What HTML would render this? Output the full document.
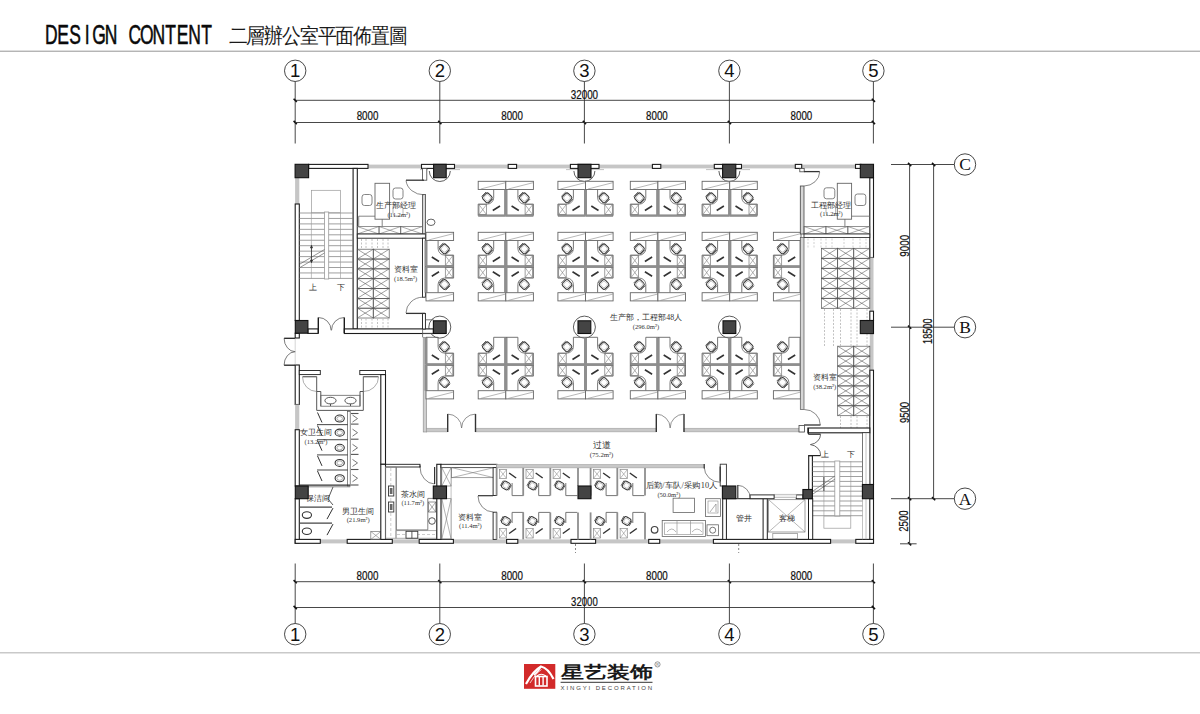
<!DOCTYPE html>
<html><head><meta charset="utf-8"><style>html,body{margin:0;padding:0;background:#fff;width:1200px;height:714px;overflow:hidden}svg{display:block}</style></head><body>
<svg width="1200" height="714" viewBox="0 0 1200 714" shape-rendering="geometricPrecision">
<rect x="0" y="50.6" width="1200" height="1.3" fill="#adadad" stroke="none" stroke-width="1" />
<rect x="0" y="652" width="1200" height="1.5" fill="#c9c9c9" stroke="none" stroke-width="1" />
<text transform="translate(0 44.0) scale(0.62 1)" x="82.69 101.95 121.21 140.47 159.73 178.98 198.24 217.50 236.76 256.02 275.27 294.53 313.79 333.05" y="0" font-family="Liberation Sans" font-size="28.2" text-anchor="middle" fill="#0a0a0a" stroke="#0a0a0a" stroke-width="0.55">DESIGN CONTENT</text>
<text transform="translate(0 42.6) scale(0.9 1)" x="264.54 284.30 304.06 323.81 343.57 363.32 383.08 402.83 422.59 442.34" y="0" font-family="Liberation Serif" font-size="21.3" text-anchor="middle" fill="#1a1a1a">二層辦公室平面佈置圖</text>
<circle cx="295.2" cy="70.8" r="10.7" fill="none" stroke="#333" stroke-width="0.9"/>
<text x="295.2" y="77.4" font-family="Liberation Sans" font-size="18.5" text-anchor="middle" fill="#111" >1</text>
<line x1="295.2" y1="81.5" x2="295.2" y2="143.5" stroke="#333" stroke-width="0.9" />
<line x1="293.6" y1="120.9" x2="296.8" y2="124.1" stroke="#111" stroke-width="1.6" />
<circle cx="439.8" cy="70.8" r="10.7" fill="none" stroke="#333" stroke-width="0.9"/>
<text x="439.8" y="77.4" font-family="Liberation Sans" font-size="18.5" text-anchor="middle" fill="#111" >2</text>
<line x1="439.8" y1="81.5" x2="439.8" y2="143.5" stroke="#333" stroke-width="0.9" />
<line x1="438.2" y1="120.9" x2="441.4" y2="124.1" stroke="#111" stroke-width="1.6" />
<circle cx="584.4" cy="70.8" r="10.7" fill="none" stroke="#333" stroke-width="0.9"/>
<text x="584.4" y="77.4" font-family="Liberation Sans" font-size="18.5" text-anchor="middle" fill="#111" >3</text>
<line x1="584.4" y1="81.5" x2="584.4" y2="143.5" stroke="#333" stroke-width="0.9" />
<line x1="582.8" y1="120.9" x2="586" y2="124.1" stroke="#111" stroke-width="1.6" />
<circle cx="729.4" cy="70.8" r="10.7" fill="none" stroke="#333" stroke-width="0.9"/>
<text x="729.4" y="77.4" font-family="Liberation Sans" font-size="18.5" text-anchor="middle" fill="#111" >4</text>
<line x1="729.4" y1="81.5" x2="729.4" y2="143.5" stroke="#333" stroke-width="0.9" />
<line x1="727.8" y1="120.9" x2="731" y2="124.1" stroke="#111" stroke-width="1.6" />
<circle cx="873.4" cy="70.8" r="10.7" fill="none" stroke="#333" stroke-width="0.9"/>
<text x="873.4" y="77.4" font-family="Liberation Sans" font-size="18.5" text-anchor="middle" fill="#111" >5</text>
<line x1="873.4" y1="81.5" x2="873.4" y2="143.5" stroke="#333" stroke-width="0.9" />
<line x1="871.8" y1="120.9" x2="875" y2="124.1" stroke="#111" stroke-width="1.6" />
<line x1="295.2" y1="100.3" x2="873.4" y2="100.3" stroke="#333" stroke-width="0.9" />
<line x1="295.2" y1="122.5" x2="873.4" y2="122.5" stroke="#333" stroke-width="0.9" />
<line x1="293.6" y1="98.7" x2="296.8" y2="101.9" stroke="#111" stroke-width="1.6" />
<line x1="871.8" y1="98.7" x2="875" y2="101.9" stroke="#111" stroke-width="1.6" />
<text x="584.4" y="98.7" font-family="Liberation Sans" font-size="12.7" text-anchor="middle" fill="#111" textLength="27.4" lengthAdjust="spacingAndGlyphs" stroke="#111" stroke-width="0.22">32000</text>
<text x="367.5" y="120.3" font-family="Liberation Sans" font-size="12.3" text-anchor="middle" fill="#111" textLength="21.7" lengthAdjust="spacingAndGlyphs" stroke="#111" stroke-width="0.22">8000</text>
<text x="512.1" y="120.3" font-family="Liberation Sans" font-size="12.3" text-anchor="middle" fill="#111" textLength="21.7" lengthAdjust="spacingAndGlyphs" stroke="#111" stroke-width="0.22">8000</text>
<text x="656.9" y="120.3" font-family="Liberation Sans" font-size="12.3" text-anchor="middle" fill="#111" textLength="21.7" lengthAdjust="spacingAndGlyphs" stroke="#111" stroke-width="0.22">8000</text>
<text x="801.4" y="120.3" font-family="Liberation Sans" font-size="12.3" text-anchor="middle" fill="#111" textLength="21.7" lengthAdjust="spacingAndGlyphs" stroke="#111" stroke-width="0.22">8000</text>
<circle cx="295.2" cy="634.2" r="10.7" fill="none" stroke="#333" stroke-width="0.9"/>
<text x="295.2" y="640.8" font-family="Liberation Sans" font-size="18.5" text-anchor="middle" fill="#111" >1</text>
<line x1="295.2" y1="563.5" x2="295.2" y2="623.5" stroke="#333" stroke-width="0.9" />
<line x1="293.6" y1="580.1" x2="296.8" y2="583.3" stroke="#111" stroke-width="1.6" />
<circle cx="439.8" cy="634.2" r="10.7" fill="none" stroke="#333" stroke-width="0.9"/>
<text x="439.8" y="640.8" font-family="Liberation Sans" font-size="18.5" text-anchor="middle" fill="#111" >2</text>
<line x1="439.8" y1="563.5" x2="439.8" y2="623.5" stroke="#333" stroke-width="0.9" />
<line x1="438.2" y1="580.1" x2="441.4" y2="583.3" stroke="#111" stroke-width="1.6" />
<circle cx="584.4" cy="634.2" r="10.7" fill="none" stroke="#333" stroke-width="0.9"/>
<text x="584.4" y="640.8" font-family="Liberation Sans" font-size="18.5" text-anchor="middle" fill="#111" >3</text>
<line x1="584.4" y1="563.5" x2="584.4" y2="623.5" stroke="#333" stroke-width="0.9" />
<line x1="582.8" y1="580.1" x2="586" y2="583.3" stroke="#111" stroke-width="1.6" />
<circle cx="729.4" cy="634.2" r="10.7" fill="none" stroke="#333" stroke-width="0.9"/>
<text x="729.4" y="640.8" font-family="Liberation Sans" font-size="18.5" text-anchor="middle" fill="#111" >4</text>
<line x1="729.4" y1="563.5" x2="729.4" y2="623.5" stroke="#333" stroke-width="0.9" />
<line x1="727.8" y1="580.1" x2="731" y2="583.3" stroke="#111" stroke-width="1.6" />
<circle cx="873.4" cy="634.2" r="10.7" fill="none" stroke="#333" stroke-width="0.9"/>
<text x="873.4" y="640.8" font-family="Liberation Sans" font-size="18.5" text-anchor="middle" fill="#111" >5</text>
<line x1="873.4" y1="563.5" x2="873.4" y2="623.5" stroke="#333" stroke-width="0.9" />
<line x1="871.8" y1="580.1" x2="875" y2="583.3" stroke="#111" stroke-width="1.6" />
<line x1="295.2" y1="581.7" x2="873.4" y2="581.7" stroke="#333" stroke-width="0.9" />
<line x1="295.2" y1="607.5" x2="873.4" y2="607.5" stroke="#333" stroke-width="0.9" />
<line x1="293.6" y1="605.9" x2="296.8" y2="609.1" stroke="#111" stroke-width="1.6" />
<line x1="871.8" y1="605.9" x2="875" y2="609.1" stroke="#111" stroke-width="1.6" />
<text x="584.4" y="605.5" font-family="Liberation Sans" font-size="12.7" text-anchor="middle" fill="#111" textLength="26.6" lengthAdjust="spacingAndGlyphs" stroke="#111" stroke-width="0.22">32000</text>
<text x="367.5" y="579.8" font-family="Liberation Sans" font-size="12.3" text-anchor="middle" fill="#111" textLength="21.8" lengthAdjust="spacingAndGlyphs" stroke="#111" stroke-width="0.22">8000</text>
<text x="512.1" y="579.8" font-family="Liberation Sans" font-size="12.3" text-anchor="middle" fill="#111" textLength="21.8" lengthAdjust="spacingAndGlyphs" stroke="#111" stroke-width="0.22">8000</text>
<text x="656.9" y="579.8" font-family="Liberation Sans" font-size="12.3" text-anchor="middle" fill="#111" textLength="21.8" lengthAdjust="spacingAndGlyphs" stroke="#111" stroke-width="0.22">8000</text>
<text x="801.4" y="579.8" font-family="Liberation Sans" font-size="12.3" text-anchor="middle" fill="#111" textLength="21.8" lengthAdjust="spacingAndGlyphs" stroke="#111" stroke-width="0.22">8000</text>
<line x1="891" y1="164.5" x2="954.3" y2="164.5" stroke="#333" stroke-width="0.9" />
<circle cx="965" cy="164.5" r="10.7" fill="none" stroke="#333" stroke-width="0.9"/>
<text x="965" y="170.4" font-family="Liberation Serif" font-size="17.5" text-anchor="middle" fill="#111" >C</text>
<line x1="908" y1="162.9" x2="911.2" y2="166.1" stroke="#111" stroke-width="1.6" />
<line x1="891" y1="327.2" x2="954.3" y2="327.2" stroke="#333" stroke-width="0.9" />
<circle cx="965" cy="327.2" r="10.7" fill="none" stroke="#333" stroke-width="0.9"/>
<text x="965" y="333.1" font-family="Liberation Serif" font-size="17.5" text-anchor="middle" fill="#111" >B</text>
<line x1="908" y1="325.6" x2="911.2" y2="328.8" stroke="#111" stroke-width="1.6" />
<line x1="891" y1="498.7" x2="954.3" y2="498.7" stroke="#333" stroke-width="0.9" />
<circle cx="965" cy="498.7" r="10.7" fill="none" stroke="#333" stroke-width="0.9"/>
<text x="965" y="504.6" font-family="Liberation Serif" font-size="17.5" text-anchor="middle" fill="#111" >A</text>
<line x1="908" y1="497.1" x2="911.2" y2="500.3" stroke="#111" stroke-width="1.6" />
<line x1="932" y1="162.9" x2="935.2" y2="166.1" stroke="#111" stroke-width="1.6" />
<line x1="932" y1="497.1" x2="935.2" y2="500.3" stroke="#111" stroke-width="1.6" />
<line x1="908" y1="542.2" x2="911.2" y2="545.4" stroke="#111" stroke-width="1.6" />
<line x1="909.6" y1="164.5" x2="909.6" y2="543.8" stroke="#333" stroke-width="0.9" />
<line x1="933.6" y1="164.5" x2="933.6" y2="498.7" stroke="#333" stroke-width="0.9" />
<line x1="900" y1="543.8" x2="916.6" y2="543.8" stroke="#333" stroke-width="0.9" />
<text x="908.7" y="245.8" font-family="Liberation Sans" font-size="12.7" text-anchor="middle" fill="#111" textLength="21.8" lengthAdjust="spacingAndGlyphs" transform="rotate(-90 908.7 245.8)" stroke="#111" stroke-width="0.22">9000</text>
<text x="908.7" y="412.5" font-family="Liberation Sans" font-size="12.7" text-anchor="middle" fill="#111" textLength="21" lengthAdjust="spacingAndGlyphs" transform="rotate(-90 908.7 412.5)" stroke="#111" stroke-width="0.22">9500</text>
<text x="908.5" y="521.1" font-family="Liberation Sans" font-size="12.7" text-anchor="middle" fill="#111" textLength="21.4" lengthAdjust="spacingAndGlyphs" transform="rotate(-90 908.5 521.1)" stroke="#111" stroke-width="0.22">2500</text>
<text x="932" y="331.2" font-family="Liberation Sans" font-size="12.7" text-anchor="middle" fill="#111" textLength="25.5" lengthAdjust="spacingAndGlyphs" transform="rotate(-90 932 331.2)" stroke="#111" stroke-width="0.22">18500</text>
<rect x="308" y="164.6" width="552.5" height="3.8" fill="#c6c6c6" stroke="none" stroke-width="1" />
<rect x="308.6" y="164.4" width="59.4" height="4" fill="#fff" stroke="#1c1c1c" stroke-width="1.1" />
<rect x="421.5" y="164.4" width="33" height="4" fill="#fff" stroke="#1c1c1c" stroke-width="1.1" />
<rect x="508.2" y="164.4" width="8.4" height="4" fill="#fff" stroke="#1c1c1c" stroke-width="1.1" />
<rect x="570.4" y="164.4" width="28.6" height="4" fill="#fff" stroke="#1c1c1c" stroke-width="1.1" />
<rect x="652.4" y="164.4" width="8.4" height="4" fill="#fff" stroke="#1c1c1c" stroke-width="1.1" />
<rect x="714.3" y="164.4" width="27.2" height="4" fill="#fff" stroke="#1c1c1c" stroke-width="1.1" />
<rect x="795.3" y="164.4" width="6.4" height="4" fill="#fff" stroke="#1c1c1c" stroke-width="1.1" />
<rect x="855.5" y="164.4" width="5.5" height="4" fill="#fff" stroke="#1c1c1c" stroke-width="1.1" />
<path d="M429.3,171 A10.5,10.5 0 0 0 450.3,171" stroke="#333" stroke-width="0.8" fill="none" />
<path d="M573.9,171 A10.5,10.5 0 0 0 594.9,171" stroke="#333" stroke-width="0.8" fill="none" />
<path d="M718.9,171 A10.5,10.5 0 0 0 739.9,171" stroke="#333" stroke-width="0.8" fill="none" />
<line x1="446" y1="169.6" x2="460" y2="169.6" stroke="#bbb" stroke-width="0.9" />
<line x1="420" y1="169.6" x2="428" y2="169.6" stroke="#bbb" stroke-width="0.9" />
<line x1="566" y1="169.6" x2="578" y2="169.6" stroke="#bbb" stroke-width="0.9" />
<line x1="591" y1="169.6" x2="604" y2="169.6" stroke="#bbb" stroke-width="0.9" />
<line x1="706" y1="169.6" x2="722" y2="169.6" stroke="#bbb" stroke-width="0.9" />
<line x1="736" y1="169.6" x2="750" y2="169.6" stroke="#bbb" stroke-width="0.9" />
<rect x="295.1" y="177.7" width="4.2" height="26.3" fill="#c6c6c6" stroke="none" stroke-width="1" />
<rect x="295.2" y="204" width="4.1" height="116.5" fill="#fff" stroke="#1c1c1c" stroke-width="1.1" />
<rect x="295.2" y="333.2" width="4.1" height="4.8" fill="#fff" stroke="#1c1c1c" stroke-width="1.1" />
<rect x="295.2" y="365" width="4.1" height="39.5" fill="#fff" stroke="#1c1c1c" stroke-width="1.1" />
<rect x="295.1" y="404.5" width="4.2" height="25.2" fill="#c6c6c6" stroke="none" stroke-width="1" />
<rect x="295.2" y="429.7" width="4.1" height="56.3" fill="#fff" stroke="#1c1c1c" stroke-width="1.1" />
<rect x="295.2" y="498.7" width="4.1" height="44.6" fill="#fff" stroke="#1c1c1c" stroke-width="1.1" />
<line x1="284.1" y1="338.3" x2="295.2" y2="338.3" stroke="#222" stroke-width="1.3" />
<line x1="284.1" y1="365.2" x2="295.2" y2="365.2" stroke="#222" stroke-width="1.3" />
<path d="M284.1,338.3 A11.2,13.4 0 0 0 295.2,351.7 M284.1,365.2 A11.2,13.4 0 0 1 295.2,351.7" stroke="#444" stroke-width="0.7" fill="none" />
<line x1="295.2" y1="338.3" x2="295.2" y2="365.2" stroke="#aaa" stroke-width="0.5" />
<rect x="869.8" y="177.7" width="3.7" height="79.8" fill="#fff" stroke="#1c1c1c" stroke-width="1.1" />
<rect x="869.8" y="257.5" width="3.7" height="53.7" fill="#c6c6c6" stroke="none" stroke-width="1" />
<rect x="869.8" y="311.2" width="3.7" height="9.3" fill="#fff" stroke="#1c1c1c" stroke-width="1.1" />
<rect x="869.8" y="333.6" width="3.7" height="36.6" fill="#c6c6c6" stroke="none" stroke-width="1" />
<rect x="869.8" y="370.2" width="3.7" height="114.3" fill="#fff" stroke="#1c1c1c" stroke-width="1.1" />
<rect x="869.8" y="498.7" width="3.7" height="44.6" fill="#fff" stroke="#1c1c1c" stroke-width="1.1" />
<rect x="299" y="539.4" width="571" height="4" fill="#c6c6c6" stroke="none" stroke-width="1" />
<rect x="295.2" y="539.4" width="25.1" height="3.9" fill="#fff" stroke="#1c1c1c" stroke-width="1.1" />
<rect x="347.2" y="539.4" width="45.1" height="3.9" fill="#fff" stroke="#1c1c1c" stroke-width="1.1" />
<rect x="419.2" y="539.4" width="34.2" height="3.9" fill="#fff" stroke="#1c1c1c" stroke-width="1.1" />
<rect x="506.6" y="539.4" width="11.2" height="3.9" fill="#fff" stroke="#1c1c1c" stroke-width="1.1" />
<rect x="571" y="539.4" width="24.6" height="3.9" fill="#fff" stroke="#1c1c1c" stroke-width="1.1" />
<rect x="648.7" y="539.4" width="11" height="3.9" fill="#fff" stroke="#1c1c1c" stroke-width="1.1" />
<rect x="713.4" y="539.4" width="117.2" height="3.9" fill="#fff" stroke="#1c1c1c" stroke-width="1.1" />
<rect x="855.8" y="539.4" width="17.7" height="3.9" fill="#fff" stroke="#1c1c1c" stroke-width="1.1" />
<circle cx="439.8" cy="327.1" r="11" fill="#fff" stroke="#333" stroke-width="0.8"/>
<circle cx="584.4" cy="327.1" r="11" fill="#fff" stroke="#333" stroke-width="0.8"/>
<circle cx="729.4" cy="327.1" r="11" fill="#fff" stroke="#333" stroke-width="0.8"/>
<rect x="353.1" y="168.4" width="4.2" height="160.6" fill="#fff" stroke="#1c1c1c" stroke-width="1.1" />
<rect x="307.9" y="328.9" width="10.4" height="4.5" fill="#fff" stroke="#1c1c1c" stroke-width="1.1" />
<rect x="344.3" y="328.9" width="89.1" height="4.6" fill="#fff" stroke="#1c1c1c" stroke-width="1.1" />
<line x1="318.3" y1="317.5" x2="318.3" y2="333" stroke="#1c1c1c" stroke-width="1.4" />
<line x1="344.3" y1="317.5" x2="344.3" y2="333" stroke="#1c1c1c" stroke-width="1.4" />
<path d="M318.3,317.5 A12.8,12.8 0 0 1 331.1,330.3 M344.3,317.5 A12.8,12.8 0 0 0 331.5,330.3" stroke="#444" stroke-width="0.7" fill="none" />
<line x1="299.3" y1="213" x2="353.1" y2="213" stroke="#777" stroke-width="0.7" />
<line x1="299.3" y1="218.45" x2="353.1" y2="218.45" stroke="#777" stroke-width="0.7" />
<line x1="299.3" y1="223.9" x2="353.1" y2="223.9" stroke="#777" stroke-width="0.7" />
<line x1="299.3" y1="229.35" x2="353.1" y2="229.35" stroke="#777" stroke-width="0.7" />
<line x1="299.3" y1="234.8" x2="353.1" y2="234.8" stroke="#777" stroke-width="0.7" />
<line x1="299.3" y1="240.25" x2="353.1" y2="240.25" stroke="#777" stroke-width="0.7" />
<line x1="299.3" y1="245.7" x2="353.1" y2="245.7" stroke="#777" stroke-width="0.7" />
<line x1="299.3" y1="251.15" x2="353.1" y2="251.15" stroke="#777" stroke-width="0.7" />
<line x1="299.3" y1="256.6" x2="353.1" y2="256.6" stroke="#777" stroke-width="0.7" />
<line x1="299.3" y1="262.05" x2="353.1" y2="262.05" stroke="#777" stroke-width="0.7" />
<line x1="299.3" y1="267.5" x2="353.1" y2="267.5" stroke="#777" stroke-width="0.7" />
<line x1="299.3" y1="272.95" x2="353.1" y2="272.95" stroke="#777" stroke-width="0.7" />
<line x1="299.3" y1="278.4" x2="353.1" y2="278.4" stroke="#777" stroke-width="0.7" />
<rect x="311.4" y="190.3" width="29.1" height="22.5" fill="none" stroke="#999" stroke-width="0.7" />
<line x1="311.4" y1="212.8" x2="311.4" y2="278.5" stroke="#999" stroke-width="0.6" />
<line x1="340.5" y1="212.8" x2="340.5" y2="278.5" stroke="#999" stroke-width="0.6" />
<rect x="324.5" y="212" width="4.2" height="67" fill="#fff" stroke="#999" stroke-width="0.8" />
<line x1="300" y1="264" x2="324.5" y2="249.5" stroke="#666" stroke-width="0.7" />
<line x1="300" y1="267.5" x2="324.5" y2="253" stroke="#666" stroke-width="0.7" />
<line x1="311.5" y1="245.6" x2="311.5" y2="262.5" stroke="#333" stroke-width="0.8" />
<path d="M310.3,248 L311.5,245.2 L312.7,248 Z M310.3,260 L311.5,262.8 L312.7,260 Z" stroke="#333" stroke-width="0.5" fill="#333" />
<text x="312.8" y="289.8" font-family="Liberation Serif" font-size="8" text-anchor="middle" fill="#333" >上</text>
<text x="341.3" y="289.8" font-family="Liberation Serif" font-size="8" text-anchor="middle" fill="#333" >下</text>
<rect x="422.6" y="194.5" width="2.8" height="39.5" fill="#d6d6d6" stroke="#444" stroke-width="0.8" />
<rect x="422.4" y="168.4" width="4.4" height="11.8" fill="#fff" stroke="#444" stroke-width="0.8" />
<line x1="406" y1="180.2" x2="424" y2="180.2" stroke="#333" stroke-width="1.3" />
<path d="M406,180.5 A18,16 0 0 0 424,194.8" stroke="#555" stroke-width="0.7" fill="none" />
<rect x="375" y="183.3" width="14.6" height="35.9" fill="none" stroke="#666" stroke-width="0.9" />
<path d="M358.7,226.5 L358.7,216.2 L375,216.2 M382.2,219.2 L382.2,226.5" stroke="#666" stroke-width="0.8" fill="none" />
<rect x="362" y="194.5" width="10" height="11" rx="2.5" fill="none" stroke="#666" stroke-width="0.8"/>
<rect x="393" y="188" width="10" height="11" rx="2.5" fill="none" stroke="#666" stroke-width="0.8"/>
<rect x="393" y="206" width="10" height="10" rx="2.5" fill="none" stroke="#999" stroke-width="0.7"/>
<rect x="357.3" y="226.5" width="21.73" height="7.5" fill="none" stroke="#666" stroke-width="0.7" />
<line x1="357.3" y1="226.5" x2="379.03" y2="234" stroke="#666" stroke-width="0.5599999999999999" />
<line x1="357.3" y1="234" x2="379.03" y2="226.5" stroke="#666" stroke-width="0.5599999999999999" />
<rect x="379.03" y="226.5" width="21.73" height="7.5" fill="none" stroke="#666" stroke-width="0.7" />
<line x1="379.03" y1="226.5" x2="400.76" y2="234" stroke="#666" stroke-width="0.5599999999999999" />
<line x1="379.03" y1="234" x2="400.76" y2="226.5" stroke="#666" stroke-width="0.5599999999999999" />
<rect x="400.76" y="226.5" width="21.73" height="7.5" fill="none" stroke="#666" stroke-width="0.7" />
<line x1="400.76" y1="226.5" x2="422.49" y2="234" stroke="#666" stroke-width="0.5599999999999999" />
<line x1="400.76" y1="234" x2="422.49" y2="226.5" stroke="#666" stroke-width="0.5599999999999999" />
<rect x="357.3" y="234" width="68.1" height="4.2" fill="#fff" stroke="#1c1c1c" stroke-width="0.9" />
<ellipse cx="431" cy="222.3" rx="4" ry="3.2" fill="none" stroke="#555" stroke-width="0.9"/>
<text x="395.5" y="208.3" font-family="Liberation Serif" font-size="7.9" text-anchor="middle" fill="#333" >生产部经理</text>
<text x="398.8" y="216.8" font-family="Liberation Serif" font-size="6.6" text-anchor="middle" fill="#333" >(11.2m²)</text>
<rect x="357.3" y="249.2" width="15.95" height="9.83" fill="none" stroke="#555" stroke-width="0.7" />
<line x1="357.3" y1="249.2" x2="373.25" y2="259.03" stroke="#555" stroke-width="0.5599999999999999" />
<line x1="357.3" y1="259.03" x2="373.25" y2="249.2" stroke="#555" stroke-width="0.5599999999999999" />
<rect x="357.3" y="259.03" width="15.95" height="9.83" fill="none" stroke="#555" stroke-width="0.7" />
<line x1="357.3" y1="259.03" x2="373.25" y2="268.86" stroke="#555" stroke-width="0.5599999999999999" />
<line x1="357.3" y1="268.86" x2="373.25" y2="259.03" stroke="#555" stroke-width="0.5599999999999999" />
<rect x="357.3" y="268.86" width="15.95" height="9.83" fill="none" stroke="#555" stroke-width="0.7" />
<line x1="357.3" y1="268.86" x2="373.25" y2="278.69" stroke="#555" stroke-width="0.5599999999999999" />
<line x1="357.3" y1="278.69" x2="373.25" y2="268.86" stroke="#555" stroke-width="0.5599999999999999" />
<rect x="357.3" y="278.69" width="15.95" height="9.83" fill="none" stroke="#555" stroke-width="0.7" />
<line x1="357.3" y1="278.69" x2="373.25" y2="288.52" stroke="#555" stroke-width="0.5599999999999999" />
<line x1="357.3" y1="288.52" x2="373.25" y2="278.69" stroke="#555" stroke-width="0.5599999999999999" />
<rect x="357.3" y="288.52" width="15.95" height="9.83" fill="none" stroke="#555" stroke-width="0.7" />
<line x1="357.3" y1="288.52" x2="373.25" y2="298.35" stroke="#555" stroke-width="0.5599999999999999" />
<line x1="357.3" y1="298.35" x2="373.25" y2="288.52" stroke="#555" stroke-width="0.5599999999999999" />
<rect x="357.3" y="298.35" width="15.95" height="9.83" fill="none" stroke="#555" stroke-width="0.7" />
<line x1="357.3" y1="298.35" x2="373.25" y2="308.18" stroke="#555" stroke-width="0.5599999999999999" />
<line x1="357.3" y1="308.18" x2="373.25" y2="298.35" stroke="#555" stroke-width="0.5599999999999999" />
<rect x="357.3" y="308.18" width="15.95" height="9.83" fill="none" stroke="#555" stroke-width="0.7" />
<line x1="357.3" y1="308.18" x2="373.25" y2="318.01" stroke="#555" stroke-width="0.5599999999999999" />
<line x1="357.3" y1="318.01" x2="373.25" y2="308.18" stroke="#555" stroke-width="0.5599999999999999" />
<rect x="373.25" y="249.2" width="15.95" height="9.83" fill="none" stroke="#555" stroke-width="0.7" />
<line x1="373.25" y1="249.2" x2="389.2" y2="259.03" stroke="#555" stroke-width="0.5599999999999999" />
<line x1="373.25" y1="259.03" x2="389.2" y2="249.2" stroke="#555" stroke-width="0.5599999999999999" />
<rect x="373.25" y="259.03" width="15.95" height="9.83" fill="none" stroke="#555" stroke-width="0.7" />
<line x1="373.25" y1="259.03" x2="389.2" y2="268.86" stroke="#555" stroke-width="0.5599999999999999" />
<line x1="373.25" y1="268.86" x2="389.2" y2="259.03" stroke="#555" stroke-width="0.5599999999999999" />
<rect x="373.25" y="268.86" width="15.95" height="9.83" fill="none" stroke="#555" stroke-width="0.7" />
<line x1="373.25" y1="268.86" x2="389.2" y2="278.69" stroke="#555" stroke-width="0.5599999999999999" />
<line x1="373.25" y1="278.69" x2="389.2" y2="268.86" stroke="#555" stroke-width="0.5599999999999999" />
<rect x="373.25" y="278.69" width="15.95" height="9.83" fill="none" stroke="#555" stroke-width="0.7" />
<line x1="373.25" y1="278.69" x2="389.2" y2="288.52" stroke="#555" stroke-width="0.5599999999999999" />
<line x1="373.25" y1="288.52" x2="389.2" y2="278.69" stroke="#555" stroke-width="0.5599999999999999" />
<rect x="373.25" y="288.52" width="15.95" height="9.83" fill="none" stroke="#555" stroke-width="0.7" />
<line x1="373.25" y1="288.52" x2="389.2" y2="298.35" stroke="#555" stroke-width="0.5599999999999999" />
<line x1="373.25" y1="298.35" x2="389.2" y2="288.52" stroke="#555" stroke-width="0.5599999999999999" />
<rect x="373.25" y="298.35" width="15.95" height="9.83" fill="none" stroke="#555" stroke-width="0.7" />
<line x1="373.25" y1="298.35" x2="389.2" y2="308.18" stroke="#555" stroke-width="0.5599999999999999" />
<line x1="373.25" y1="308.18" x2="389.2" y2="298.35" stroke="#555" stroke-width="0.5599999999999999" />
<rect x="373.25" y="308.18" width="15.95" height="9.83" fill="none" stroke="#555" stroke-width="0.7" />
<line x1="373.25" y1="308.18" x2="389.2" y2="318.01" stroke="#555" stroke-width="0.5599999999999999" />
<line x1="373.25" y1="318.01" x2="389.2" y2="308.18" stroke="#555" stroke-width="0.5599999999999999" />
<line x1="361.5" y1="239" x2="361.5" y2="249" stroke="#bbb" stroke-width="0.9" stroke-dasharray="2 1.5"/>
<line x1="361.5" y1="318.5" x2="361.5" y2="328.5" stroke="#bbb" stroke-width="0.9" stroke-dasharray="2 1.5"/>
<line x1="366" y1="239" x2="366" y2="249" stroke="#bbb" stroke-width="0.9" stroke-dasharray="2 1.5"/>
<line x1="366" y1="318.5" x2="366" y2="328.5" stroke="#bbb" stroke-width="0.9" stroke-dasharray="2 1.5"/>
<line x1="372" y1="239" x2="372" y2="249" stroke="#bbb" stroke-width="0.9" stroke-dasharray="2 1.5"/>
<line x1="372" y1="318.5" x2="372" y2="328.5" stroke="#bbb" stroke-width="0.9" stroke-dasharray="2 1.5"/>
<line x1="377.5" y1="239" x2="377.5" y2="249" stroke="#bbb" stroke-width="0.9" stroke-dasharray="2 1.5"/>
<line x1="377.5" y1="318.5" x2="377.5" y2="328.5" stroke="#bbb" stroke-width="0.9" stroke-dasharray="2 1.5"/>
<line x1="383" y1="239" x2="383" y2="249" stroke="#bbb" stroke-width="0.9" stroke-dasharray="2 1.5"/>
<line x1="383" y1="318.5" x2="383" y2="328.5" stroke="#bbb" stroke-width="0.9" stroke-dasharray="2 1.5"/>
<line x1="388" y1="239" x2="388" y2="249" stroke="#bbb" stroke-width="0.9" stroke-dasharray="2 1.5"/>
<line x1="388" y1="318.5" x2="388" y2="328.5" stroke="#bbb" stroke-width="0.9" stroke-dasharray="2 1.5"/>
<rect x="422.5" y="238.2" width="2.9" height="59" fill="#fff" stroke="#1c1c1c" stroke-width="0.9" />
<rect x="422.5" y="313.4" width="2.9" height="15.6" fill="#fff" stroke="#1c1c1c" stroke-width="0.9" />
<line x1="406" y1="313.4" x2="425" y2="313.4" stroke="#333" stroke-width="1.3" />
<path d="M406,313 A17,16 0 0 1 423,297.2" stroke="#555" stroke-width="0.7" fill="none" />
<text x="406.2" y="272.2" font-family="Liberation Serif" font-size="7.9" text-anchor="middle" fill="#333" >资料室</text>
<text x="405.6" y="280.6" font-family="Liberation Serif" font-size="6.6" text-anchor="middle" fill="#333" >(18.5m²)</text>
<path d="M425.4,319.8 L433.6,319.8 M422.5,333.4 L433.6,333.4" stroke="#555" stroke-width="0.8" fill="none" />
<rect x="423.2" y="337.3" width="3.5" height="94.7" fill="#cfcfcf" stroke="#888" stroke-width="0.6" />
<line x1="422.6" y1="329" x2="422.6" y2="337.3" stroke="#555" stroke-width="0.8" />
<rect x="426.7" y="428.2" width="21" height="3.7" fill="#c8c8c8" stroke="#999" stroke-width="0.5" />
<rect x="475.5" y="428.2" width="180.8" height="3.7" fill="#c8c8c8" stroke="#999" stroke-width="0.5" />
<rect x="684" y="428.2" width="120" height="3.7" fill="#c8c8c8" stroke="#999" stroke-width="0.5" />
<line x1="447.7" y1="414" x2="447.7" y2="432" stroke="#333" stroke-width="1.4" />
<line x1="475.5" y1="414" x2="475.5" y2="432" stroke="#333" stroke-width="1.4" />
<path d="M447.7,414.1 A13.9,13.9 0 0 1 461.6,428 M475.5,414.1 A13.9,13.9 0 0 0 461.6,428" stroke="#666" stroke-width="0.7" fill="none" />
<line x1="656.3" y1="414" x2="656.3" y2="432" stroke="#333" stroke-width="1.4" />
<line x1="684" y1="414" x2="684" y2="432" stroke="#333" stroke-width="1.4" />
<path d="M656.3,414.15 A13.85,13.85 0 0 1 670.15,428 M684,414.15 A13.85,13.85 0 0 0 670.15,428" stroke="#666" stroke-width="0.7" fill="none" />
<text x="601.5" y="447.6" font-family="Liberation Serif" font-size="9" text-anchor="middle" fill="#333" >过道</text>
<text x="601.5" y="457.3" font-family="Liberation Serif" font-size="6.8" text-anchor="middle" fill="#333" >(75.2m²)</text>
<text x="646.2" y="320" font-family="Liberation Serif" font-size="7.9" text-anchor="middle" fill="#333" >生产部，工程部48人</text>
<text x="646" y="329.2" font-family="Liberation Serif" font-size="6.6" text-anchor="middle" fill="#333" >(296.0m²)</text>
<line x1="478.2" y1="215.6" x2="505.8" y2="215.6" stroke="#8e8e8e" stroke-width="2.4" />
<line x1="505.8" y1="215.6" x2="505.8" y2="189.5" stroke="#8e8e8e" stroke-width="3.0" />
<line x1="478.2" y1="215.6" x2="478.2" y2="204.1" stroke="#666" stroke-width="0.9" />
<line x1="478.2" y1="204.1" x2="487.3" y2="204.1" stroke="#666" stroke-width="0.9" />
<rect x="479" y="204.6" width="7.5" height="10" fill="none" stroke="#777" stroke-width="0.7" />
<line x1="479" y1="214.6" x2="486.5" y2="204.6" stroke="#777" stroke-width="0.5599999999999999" />
<line x1="479" y1="204.6" x2="486.5" y2="214.6" stroke="#777" stroke-width="0.5599999999999999" />
<line x1="493.7" y1="197.8" x2="493.7" y2="189.5" stroke="#666" stroke-width="0.9" />
<path d="M487.3,204.1 A6.4,6.4 0 0 0 493.7,197.8" stroke="#666" stroke-width="0.8" fill="none" />
<g transform="translate(487.3 197.8) rotate(45)"><rect x="-4" y="-4" width="8" height="8" rx="2" fill="#fff" stroke="#333" stroke-width="1.0"/><rect x="-2.7" y="-2.7" width="5.4" height="5.4" rx="1.2" fill="none" stroke="#888" stroke-width="0.5"/><path d="M-5,-3.2 L-5,3.2 M5,-3.2 L5,3.2" stroke="#444" stroke-width="0.8"/></g>
<line x1="492.8" y1="210.5" x2="500" y2="206" stroke="#333" stroke-width="1.6" />
<rect x="478.2" y="181.3" width="27.6" height="8.2" fill="#fff" stroke="#666" stroke-width="0.9" />
<line x1="480.7" y1="189" x2="505.8" y2="182.6" stroke="#888" stroke-width="0.6" />
<line x1="533.4" y1="215.6" x2="505.8" y2="215.6" stroke="#8e8e8e" stroke-width="2.4" />
<line x1="505.8" y1="215.6" x2="505.8" y2="189.5" stroke="#8e8e8e" stroke-width="3.0" />
<line x1="533.4" y1="215.6" x2="533.4" y2="204.1" stroke="#666" stroke-width="0.9" />
<line x1="533.4" y1="204.1" x2="524.3" y2="204.1" stroke="#666" stroke-width="0.9" />
<rect x="525.1" y="204.6" width="7.5" height="10" fill="none" stroke="#777" stroke-width="0.7" />
<line x1="532.6" y1="214.6" x2="525.1" y2="204.6" stroke="#777" stroke-width="0.5599999999999999" />
<line x1="532.6" y1="204.6" x2="525.1" y2="214.6" stroke="#777" stroke-width="0.5599999999999999" />
<line x1="517.9" y1="197.8" x2="517.9" y2="189.5" stroke="#666" stroke-width="0.9" />
<path d="M524.3,204.1 A6.4,6.4 0 0 1 517.9,197.8" stroke="#666" stroke-width="0.8" fill="none" />
<g transform="translate(524.3 197.8) rotate(45)"><rect x="-4" y="-4" width="8" height="8" rx="2" fill="#fff" stroke="#333" stroke-width="1.0"/><rect x="-2.7" y="-2.7" width="5.4" height="5.4" rx="1.2" fill="none" stroke="#888" stroke-width="0.5"/><path d="M-5,-3.2 L-5,3.2 M5,-3.2 L5,3.2" stroke="#444" stroke-width="0.8"/></g>
<line x1="518.8" y1="210.5" x2="511.6" y2="206" stroke="#333" stroke-width="1.6" />
<rect x="505.8" y="181.3" width="27.6" height="8.2" fill="#fff" stroke="#666" stroke-width="0.9" />
<line x1="508.3" y1="189" x2="533.4" y2="182.6" stroke="#888" stroke-width="0.6" />
<line x1="478.2" y1="266.6" x2="505.8" y2="266.6" stroke="#8e8e8e" stroke-width="2.4" />
<line x1="505.8" y1="266.6" x2="505.8" y2="240.5" stroke="#8e8e8e" stroke-width="3.0" />
<line x1="478.2" y1="266.6" x2="478.2" y2="255.1" stroke="#666" stroke-width="0.9" />
<line x1="478.2" y1="255.1" x2="487.3" y2="255.1" stroke="#666" stroke-width="0.9" />
<rect x="479" y="255.6" width="7.5" height="10" fill="none" stroke="#777" stroke-width="0.7" />
<line x1="479" y1="265.6" x2="486.5" y2="255.6" stroke="#777" stroke-width="0.5599999999999999" />
<line x1="479" y1="255.6" x2="486.5" y2="265.6" stroke="#777" stroke-width="0.5599999999999999" />
<line x1="493.7" y1="248.8" x2="493.7" y2="240.5" stroke="#666" stroke-width="0.9" />
<path d="M487.3,255.1 A6.4,6.4 0 0 0 493.7,248.8" stroke="#666" stroke-width="0.8" fill="none" />
<g transform="translate(487.3 248.8) rotate(45)"><rect x="-4" y="-4" width="8" height="8" rx="2" fill="#fff" stroke="#333" stroke-width="1.0"/><rect x="-2.7" y="-2.7" width="5.4" height="5.4" rx="1.2" fill="none" stroke="#888" stroke-width="0.5"/><path d="M-5,-3.2 L-5,3.2 M5,-3.2 L5,3.2" stroke="#444" stroke-width="0.8"/></g>
<line x1="492.8" y1="261.5" x2="500" y2="257" stroke="#333" stroke-width="1.6" />
<rect x="478.2" y="232.3" width="27.6" height="8.2" fill="#fff" stroke="#666" stroke-width="0.9" />
<line x1="480.7" y1="240" x2="505.8" y2="233.6" stroke="#888" stroke-width="0.6" />
<line x1="533.4" y1="266.6" x2="505.8" y2="266.6" stroke="#8e8e8e" stroke-width="2.4" />
<line x1="505.8" y1="266.6" x2="505.8" y2="240.5" stroke="#8e8e8e" stroke-width="3.0" />
<line x1="533.4" y1="266.6" x2="533.4" y2="255.1" stroke="#666" stroke-width="0.9" />
<line x1="533.4" y1="255.1" x2="524.3" y2="255.1" stroke="#666" stroke-width="0.9" />
<rect x="525.1" y="255.6" width="7.5" height="10" fill="none" stroke="#777" stroke-width="0.7" />
<line x1="532.6" y1="265.6" x2="525.1" y2="255.6" stroke="#777" stroke-width="0.5599999999999999" />
<line x1="532.6" y1="255.6" x2="525.1" y2="265.6" stroke="#777" stroke-width="0.5599999999999999" />
<line x1="517.9" y1="248.8" x2="517.9" y2="240.5" stroke="#666" stroke-width="0.9" />
<path d="M524.3,255.1 A6.4,6.4 0 0 1 517.9,248.8" stroke="#666" stroke-width="0.8" fill="none" />
<g transform="translate(524.3 248.8) rotate(45)"><rect x="-4" y="-4" width="8" height="8" rx="2" fill="#fff" stroke="#333" stroke-width="1.0"/><rect x="-2.7" y="-2.7" width="5.4" height="5.4" rx="1.2" fill="none" stroke="#888" stroke-width="0.5"/><path d="M-5,-3.2 L-5,3.2 M5,-3.2 L5,3.2" stroke="#444" stroke-width="0.8"/></g>
<line x1="518.8" y1="261.5" x2="511.6" y2="257" stroke="#333" stroke-width="1.6" />
<rect x="505.8" y="232.3" width="27.6" height="8.2" fill="#fff" stroke="#666" stroke-width="0.9" />
<line x1="508.3" y1="240" x2="533.4" y2="233.6" stroke="#888" stroke-width="0.6" />
<line x1="478.2" y1="266.6" x2="505.8" y2="266.6" stroke="#8e8e8e" stroke-width="2.4" />
<line x1="505.8" y1="266.6" x2="505.8" y2="292.7" stroke="#8e8e8e" stroke-width="3.0" />
<line x1="478.2" y1="266.6" x2="478.2" y2="278.1" stroke="#666" stroke-width="0.9" />
<line x1="478.2" y1="278.1" x2="487.3" y2="278.1" stroke="#666" stroke-width="0.9" />
<rect x="479" y="267.6" width="7.5" height="10" fill="none" stroke="#777" stroke-width="0.7" />
<line x1="479" y1="267.6" x2="486.5" y2="277.6" stroke="#777" stroke-width="0.5599999999999999" />
<line x1="479" y1="277.6" x2="486.5" y2="267.6" stroke="#777" stroke-width="0.5599999999999999" />
<line x1="493.7" y1="284.4" x2="493.7" y2="292.7" stroke="#666" stroke-width="0.9" />
<path d="M487.3,278.1 A6.4,6.4 0 0 1 493.7,284.4" stroke="#666" stroke-width="0.8" fill="none" />
<g transform="translate(487.3 284.4) rotate(45)"><rect x="-4" y="-4" width="8" height="8" rx="2" fill="#fff" stroke="#333" stroke-width="1.0"/><rect x="-2.7" y="-2.7" width="5.4" height="5.4" rx="1.2" fill="none" stroke="#888" stroke-width="0.5"/><path d="M-5,-3.2 L-5,3.2 M5,-3.2 L5,3.2" stroke="#444" stroke-width="0.8"/></g>
<line x1="492.8" y1="271.7" x2="500" y2="276.2" stroke="#333" stroke-width="1.6" />
<rect x="478.2" y="292.7" width="27.6" height="8.2" fill="#fff" stroke="#666" stroke-width="0.9" />
<line x1="480.7" y1="300.4" x2="505.8" y2="294" stroke="#888" stroke-width="0.6" />
<line x1="533.4" y1="266.6" x2="505.8" y2="266.6" stroke="#8e8e8e" stroke-width="2.4" />
<line x1="505.8" y1="266.6" x2="505.8" y2="292.7" stroke="#8e8e8e" stroke-width="3.0" />
<line x1="533.4" y1="266.6" x2="533.4" y2="278.1" stroke="#666" stroke-width="0.9" />
<line x1="533.4" y1="278.1" x2="524.3" y2="278.1" stroke="#666" stroke-width="0.9" />
<rect x="525.1" y="267.6" width="7.5" height="10" fill="none" stroke="#777" stroke-width="0.7" />
<line x1="532.6" y1="267.6" x2="525.1" y2="277.6" stroke="#777" stroke-width="0.5599999999999999" />
<line x1="532.6" y1="277.6" x2="525.1" y2="267.6" stroke="#777" stroke-width="0.5599999999999999" />
<line x1="517.9" y1="284.4" x2="517.9" y2="292.7" stroke="#666" stroke-width="0.9" />
<path d="M524.3,278.1 A6.4,6.4 0 0 0 517.9,284.4" stroke="#666" stroke-width="0.8" fill="none" />
<g transform="translate(524.3 284.4) rotate(45)"><rect x="-4" y="-4" width="8" height="8" rx="2" fill="#fff" stroke="#333" stroke-width="1.0"/><rect x="-2.7" y="-2.7" width="5.4" height="5.4" rx="1.2" fill="none" stroke="#888" stroke-width="0.5"/><path d="M-5,-3.2 L-5,3.2 M5,-3.2 L5,3.2" stroke="#444" stroke-width="0.8"/></g>
<line x1="518.8" y1="271.7" x2="511.6" y2="276.2" stroke="#333" stroke-width="1.6" />
<rect x="505.8" y="292.7" width="27.6" height="8.2" fill="#fff" stroke="#666" stroke-width="0.9" />
<line x1="508.3" y1="300.4" x2="533.4" y2="294" stroke="#888" stroke-width="0.6" />
<line x1="478.2" y1="364.6" x2="505.8" y2="364.6" stroke="#8e8e8e" stroke-width="2.4" />
<line x1="505.8" y1="364.6" x2="505.8" y2="337.3" stroke="#8e8e8e" stroke-width="3.0" />
<line x1="478.2" y1="364.6" x2="478.2" y2="353.1" stroke="#666" stroke-width="0.9" />
<line x1="478.2" y1="353.1" x2="487.3" y2="353.1" stroke="#666" stroke-width="0.9" />
<rect x="479" y="353.6" width="7.5" height="10" fill="none" stroke="#777" stroke-width="0.7" />
<line x1="479" y1="363.6" x2="486.5" y2="353.6" stroke="#777" stroke-width="0.5599999999999999" />
<line x1="479" y1="353.6" x2="486.5" y2="363.6" stroke="#777" stroke-width="0.5599999999999999" />
<line x1="493.7" y1="346.8" x2="493.7" y2="337.3" stroke="#666" stroke-width="0.9" />
<path d="M487.3,353.1 A6.4,6.4 0 0 0 493.7,346.8" stroke="#666" stroke-width="0.8" fill="none" />
<g transform="translate(487.3 346.8) rotate(45)"><rect x="-4" y="-4" width="8" height="8" rx="2" fill="#fff" stroke="#333" stroke-width="1.0"/><rect x="-2.7" y="-2.7" width="5.4" height="5.4" rx="1.2" fill="none" stroke="#888" stroke-width="0.5"/><path d="M-5,-3.2 L-5,3.2 M5,-3.2 L5,3.2" stroke="#444" stroke-width="0.8"/></g>
<line x1="492.8" y1="359.5" x2="500" y2="355" stroke="#333" stroke-width="1.6" />
<line x1="493.7" y1="337.3" x2="505.8" y2="337.3" stroke="#666" stroke-width="0.9" />
<line x1="533.4" y1="364.6" x2="505.8" y2="364.6" stroke="#8e8e8e" stroke-width="2.4" />
<line x1="505.8" y1="364.6" x2="505.8" y2="337.3" stroke="#8e8e8e" stroke-width="3.0" />
<line x1="533.4" y1="364.6" x2="533.4" y2="353.1" stroke="#666" stroke-width="0.9" />
<line x1="533.4" y1="353.1" x2="524.3" y2="353.1" stroke="#666" stroke-width="0.9" />
<rect x="525.1" y="353.6" width="7.5" height="10" fill="none" stroke="#777" stroke-width="0.7" />
<line x1="532.6" y1="363.6" x2="525.1" y2="353.6" stroke="#777" stroke-width="0.5599999999999999" />
<line x1="532.6" y1="353.6" x2="525.1" y2="363.6" stroke="#777" stroke-width="0.5599999999999999" />
<line x1="517.9" y1="346.8" x2="517.9" y2="337.3" stroke="#666" stroke-width="0.9" />
<path d="M524.3,353.1 A6.4,6.4 0 0 1 517.9,346.8" stroke="#666" stroke-width="0.8" fill="none" />
<g transform="translate(524.3 346.8) rotate(45)"><rect x="-4" y="-4" width="8" height="8" rx="2" fill="#fff" stroke="#333" stroke-width="1.0"/><rect x="-2.7" y="-2.7" width="5.4" height="5.4" rx="1.2" fill="none" stroke="#888" stroke-width="0.5"/><path d="M-5,-3.2 L-5,3.2 M5,-3.2 L5,3.2" stroke="#444" stroke-width="0.8"/></g>
<line x1="518.8" y1="359.5" x2="511.6" y2="355" stroke="#333" stroke-width="1.6" />
<line x1="517.9" y1="337.3" x2="505.8" y2="337.3" stroke="#666" stroke-width="0.9" />
<line x1="478.2" y1="364.6" x2="505.8" y2="364.6" stroke="#8e8e8e" stroke-width="2.4" />
<line x1="505.8" y1="364.6" x2="505.8" y2="390.7" stroke="#8e8e8e" stroke-width="3.0" />
<line x1="478.2" y1="364.6" x2="478.2" y2="376.1" stroke="#666" stroke-width="0.9" />
<line x1="478.2" y1="376.1" x2="487.3" y2="376.1" stroke="#666" stroke-width="0.9" />
<rect x="479" y="365.6" width="7.5" height="10" fill="none" stroke="#777" stroke-width="0.7" />
<line x1="479" y1="365.6" x2="486.5" y2="375.6" stroke="#777" stroke-width="0.5599999999999999" />
<line x1="479" y1="375.6" x2="486.5" y2="365.6" stroke="#777" stroke-width="0.5599999999999999" />
<line x1="493.7" y1="382.4" x2="493.7" y2="390.7" stroke="#666" stroke-width="0.9" />
<path d="M487.3,376.1 A6.4,6.4 0 0 1 493.7,382.4" stroke="#666" stroke-width="0.8" fill="none" />
<g transform="translate(487.3 382.4) rotate(45)"><rect x="-4" y="-4" width="8" height="8" rx="2" fill="#fff" stroke="#333" stroke-width="1.0"/><rect x="-2.7" y="-2.7" width="5.4" height="5.4" rx="1.2" fill="none" stroke="#888" stroke-width="0.5"/><path d="M-5,-3.2 L-5,3.2 M5,-3.2 L5,3.2" stroke="#444" stroke-width="0.8"/></g>
<line x1="492.8" y1="369.7" x2="500" y2="374.2" stroke="#333" stroke-width="1.6" />
<rect x="478.2" y="390.7" width="27.6" height="8.2" fill="#fff" stroke="#666" stroke-width="0.9" />
<line x1="480.7" y1="398.4" x2="505.8" y2="392" stroke="#888" stroke-width="0.6" />
<line x1="533.4" y1="364.6" x2="505.8" y2="364.6" stroke="#8e8e8e" stroke-width="2.4" />
<line x1="505.8" y1="364.6" x2="505.8" y2="390.7" stroke="#8e8e8e" stroke-width="3.0" />
<line x1="533.4" y1="364.6" x2="533.4" y2="376.1" stroke="#666" stroke-width="0.9" />
<line x1="533.4" y1="376.1" x2="524.3" y2="376.1" stroke="#666" stroke-width="0.9" />
<rect x="525.1" y="365.6" width="7.5" height="10" fill="none" stroke="#777" stroke-width="0.7" />
<line x1="532.6" y1="365.6" x2="525.1" y2="375.6" stroke="#777" stroke-width="0.5599999999999999" />
<line x1="532.6" y1="375.6" x2="525.1" y2="365.6" stroke="#777" stroke-width="0.5599999999999999" />
<line x1="517.9" y1="382.4" x2="517.9" y2="390.7" stroke="#666" stroke-width="0.9" />
<path d="M524.3,376.1 A6.4,6.4 0 0 0 517.9,382.4" stroke="#666" stroke-width="0.8" fill="none" />
<g transform="translate(524.3 382.4) rotate(45)"><rect x="-4" y="-4" width="8" height="8" rx="2" fill="#fff" stroke="#333" stroke-width="1.0"/><rect x="-2.7" y="-2.7" width="5.4" height="5.4" rx="1.2" fill="none" stroke="#888" stroke-width="0.5"/><path d="M-5,-3.2 L-5,3.2 M5,-3.2 L5,3.2" stroke="#444" stroke-width="0.8"/></g>
<line x1="518.8" y1="369.7" x2="511.6" y2="374.2" stroke="#333" stroke-width="1.6" />
<rect x="505.8" y="390.7" width="27.6" height="8.2" fill="#fff" stroke="#666" stroke-width="0.9" />
<line x1="508.3" y1="398.4" x2="533.4" y2="392" stroke="#888" stroke-width="0.6" />
<line x1="557.9" y1="215.6" x2="585.5" y2="215.6" stroke="#8e8e8e" stroke-width="2.4" />
<line x1="585.5" y1="215.6" x2="585.5" y2="189.5" stroke="#8e8e8e" stroke-width="3.0" />
<line x1="557.9" y1="215.6" x2="557.9" y2="204.1" stroke="#666" stroke-width="0.9" />
<line x1="557.9" y1="204.1" x2="567" y2="204.1" stroke="#666" stroke-width="0.9" />
<rect x="558.7" y="204.6" width="7.5" height="10" fill="none" stroke="#777" stroke-width="0.7" />
<line x1="558.7" y1="214.6" x2="566.2" y2="204.6" stroke="#777" stroke-width="0.5599999999999999" />
<line x1="558.7" y1="204.6" x2="566.2" y2="214.6" stroke="#777" stroke-width="0.5599999999999999" />
<line x1="573.4" y1="197.8" x2="573.4" y2="189.5" stroke="#666" stroke-width="0.9" />
<path d="M567,204.1 A6.4,6.4 0 0 0 573.4,197.8" stroke="#666" stroke-width="0.8" fill="none" />
<g transform="translate(567 197.8) rotate(45)"><rect x="-4" y="-4" width="8" height="8" rx="2" fill="#fff" stroke="#333" stroke-width="1.0"/><rect x="-2.7" y="-2.7" width="5.4" height="5.4" rx="1.2" fill="none" stroke="#888" stroke-width="0.5"/><path d="M-5,-3.2 L-5,3.2 M5,-3.2 L5,3.2" stroke="#444" stroke-width="0.8"/></g>
<line x1="572.5" y1="210.5" x2="579.7" y2="206" stroke="#333" stroke-width="1.6" />
<rect x="557.9" y="181.3" width="27.6" height="8.2" fill="#fff" stroke="#666" stroke-width="0.9" />
<line x1="560.4" y1="189" x2="585.5" y2="182.6" stroke="#888" stroke-width="0.6" />
<line x1="613.1" y1="215.6" x2="585.5" y2="215.6" stroke="#8e8e8e" stroke-width="2.4" />
<line x1="585.5" y1="215.6" x2="585.5" y2="189.5" stroke="#8e8e8e" stroke-width="3.0" />
<line x1="613.1" y1="215.6" x2="613.1" y2="204.1" stroke="#666" stroke-width="0.9" />
<line x1="613.1" y1="204.1" x2="604" y2="204.1" stroke="#666" stroke-width="0.9" />
<rect x="604.8" y="204.6" width="7.5" height="10" fill="none" stroke="#777" stroke-width="0.7" />
<line x1="612.3" y1="214.6" x2="604.8" y2="204.6" stroke="#777" stroke-width="0.5599999999999999" />
<line x1="612.3" y1="204.6" x2="604.8" y2="214.6" stroke="#777" stroke-width="0.5599999999999999" />
<line x1="597.6" y1="197.8" x2="597.6" y2="189.5" stroke="#666" stroke-width="0.9" />
<path d="M604,204.1 A6.4,6.4 0 0 1 597.6,197.8" stroke="#666" stroke-width="0.8" fill="none" />
<g transform="translate(604 197.8) rotate(45)"><rect x="-4" y="-4" width="8" height="8" rx="2" fill="#fff" stroke="#333" stroke-width="1.0"/><rect x="-2.7" y="-2.7" width="5.4" height="5.4" rx="1.2" fill="none" stroke="#888" stroke-width="0.5"/><path d="M-5,-3.2 L-5,3.2 M5,-3.2 L5,3.2" stroke="#444" stroke-width="0.8"/></g>
<line x1="598.5" y1="210.5" x2="591.3" y2="206" stroke="#333" stroke-width="1.6" />
<rect x="585.5" y="181.3" width="27.6" height="8.2" fill="#fff" stroke="#666" stroke-width="0.9" />
<line x1="588" y1="189" x2="613.1" y2="182.6" stroke="#888" stroke-width="0.6" />
<line x1="557.9" y1="266.6" x2="585.5" y2="266.6" stroke="#8e8e8e" stroke-width="2.4" />
<line x1="585.5" y1="266.6" x2="585.5" y2="240.5" stroke="#8e8e8e" stroke-width="3.0" />
<line x1="557.9" y1="266.6" x2="557.9" y2="255.1" stroke="#666" stroke-width="0.9" />
<line x1="557.9" y1="255.1" x2="567" y2="255.1" stroke="#666" stroke-width="0.9" />
<rect x="558.7" y="255.6" width="7.5" height="10" fill="none" stroke="#777" stroke-width="0.7" />
<line x1="558.7" y1="265.6" x2="566.2" y2="255.6" stroke="#777" stroke-width="0.5599999999999999" />
<line x1="558.7" y1="255.6" x2="566.2" y2="265.6" stroke="#777" stroke-width="0.5599999999999999" />
<line x1="573.4" y1="248.8" x2="573.4" y2="240.5" stroke="#666" stroke-width="0.9" />
<path d="M567,255.1 A6.4,6.4 0 0 0 573.4,248.8" stroke="#666" stroke-width="0.8" fill="none" />
<g transform="translate(567 248.8) rotate(45)"><rect x="-4" y="-4" width="8" height="8" rx="2" fill="#fff" stroke="#333" stroke-width="1.0"/><rect x="-2.7" y="-2.7" width="5.4" height="5.4" rx="1.2" fill="none" stroke="#888" stroke-width="0.5"/><path d="M-5,-3.2 L-5,3.2 M5,-3.2 L5,3.2" stroke="#444" stroke-width="0.8"/></g>
<line x1="572.5" y1="261.5" x2="579.7" y2="257" stroke="#333" stroke-width="1.6" />
<rect x="557.9" y="232.3" width="27.6" height="8.2" fill="#fff" stroke="#666" stroke-width="0.9" />
<line x1="560.4" y1="240" x2="585.5" y2="233.6" stroke="#888" stroke-width="0.6" />
<line x1="613.1" y1="266.6" x2="585.5" y2="266.6" stroke="#8e8e8e" stroke-width="2.4" />
<line x1="585.5" y1="266.6" x2="585.5" y2="240.5" stroke="#8e8e8e" stroke-width="3.0" />
<line x1="613.1" y1="266.6" x2="613.1" y2="255.1" stroke="#666" stroke-width="0.9" />
<line x1="613.1" y1="255.1" x2="604" y2="255.1" stroke="#666" stroke-width="0.9" />
<rect x="604.8" y="255.6" width="7.5" height="10" fill="none" stroke="#777" stroke-width="0.7" />
<line x1="612.3" y1="265.6" x2="604.8" y2="255.6" stroke="#777" stroke-width="0.5599999999999999" />
<line x1="612.3" y1="255.6" x2="604.8" y2="265.6" stroke="#777" stroke-width="0.5599999999999999" />
<line x1="597.6" y1="248.8" x2="597.6" y2="240.5" stroke="#666" stroke-width="0.9" />
<path d="M604,255.1 A6.4,6.4 0 0 1 597.6,248.8" stroke="#666" stroke-width="0.8" fill="none" />
<g transform="translate(604 248.8) rotate(45)"><rect x="-4" y="-4" width="8" height="8" rx="2" fill="#fff" stroke="#333" stroke-width="1.0"/><rect x="-2.7" y="-2.7" width="5.4" height="5.4" rx="1.2" fill="none" stroke="#888" stroke-width="0.5"/><path d="M-5,-3.2 L-5,3.2 M5,-3.2 L5,3.2" stroke="#444" stroke-width="0.8"/></g>
<line x1="598.5" y1="261.5" x2="591.3" y2="257" stroke="#333" stroke-width="1.6" />
<rect x="585.5" y="232.3" width="27.6" height="8.2" fill="#fff" stroke="#666" stroke-width="0.9" />
<line x1="588" y1="240" x2="613.1" y2="233.6" stroke="#888" stroke-width="0.6" />
<line x1="557.9" y1="266.6" x2="585.5" y2="266.6" stroke="#8e8e8e" stroke-width="2.4" />
<line x1="585.5" y1="266.6" x2="585.5" y2="292.7" stroke="#8e8e8e" stroke-width="3.0" />
<line x1="557.9" y1="266.6" x2="557.9" y2="278.1" stroke="#666" stroke-width="0.9" />
<line x1="557.9" y1="278.1" x2="567" y2="278.1" stroke="#666" stroke-width="0.9" />
<rect x="558.7" y="267.6" width="7.5" height="10" fill="none" stroke="#777" stroke-width="0.7" />
<line x1="558.7" y1="267.6" x2="566.2" y2="277.6" stroke="#777" stroke-width="0.5599999999999999" />
<line x1="558.7" y1="277.6" x2="566.2" y2="267.6" stroke="#777" stroke-width="0.5599999999999999" />
<line x1="573.4" y1="284.4" x2="573.4" y2="292.7" stroke="#666" stroke-width="0.9" />
<path d="M567,278.1 A6.4,6.4 0 0 1 573.4,284.4" stroke="#666" stroke-width="0.8" fill="none" />
<g transform="translate(567 284.4) rotate(45)"><rect x="-4" y="-4" width="8" height="8" rx="2" fill="#fff" stroke="#333" stroke-width="1.0"/><rect x="-2.7" y="-2.7" width="5.4" height="5.4" rx="1.2" fill="none" stroke="#888" stroke-width="0.5"/><path d="M-5,-3.2 L-5,3.2 M5,-3.2 L5,3.2" stroke="#444" stroke-width="0.8"/></g>
<line x1="572.5" y1="271.7" x2="579.7" y2="276.2" stroke="#333" stroke-width="1.6" />
<rect x="557.9" y="292.7" width="27.6" height="8.2" fill="#fff" stroke="#666" stroke-width="0.9" />
<line x1="560.4" y1="300.4" x2="585.5" y2="294" stroke="#888" stroke-width="0.6" />
<line x1="613.1" y1="266.6" x2="585.5" y2="266.6" stroke="#8e8e8e" stroke-width="2.4" />
<line x1="585.5" y1="266.6" x2="585.5" y2="292.7" stroke="#8e8e8e" stroke-width="3.0" />
<line x1="613.1" y1="266.6" x2="613.1" y2="278.1" stroke="#666" stroke-width="0.9" />
<line x1="613.1" y1="278.1" x2="604" y2="278.1" stroke="#666" stroke-width="0.9" />
<rect x="604.8" y="267.6" width="7.5" height="10" fill="none" stroke="#777" stroke-width="0.7" />
<line x1="612.3" y1="267.6" x2="604.8" y2="277.6" stroke="#777" stroke-width="0.5599999999999999" />
<line x1="612.3" y1="277.6" x2="604.8" y2="267.6" stroke="#777" stroke-width="0.5599999999999999" />
<line x1="597.6" y1="284.4" x2="597.6" y2="292.7" stroke="#666" stroke-width="0.9" />
<path d="M604,278.1 A6.4,6.4 0 0 0 597.6,284.4" stroke="#666" stroke-width="0.8" fill="none" />
<g transform="translate(604 284.4) rotate(45)"><rect x="-4" y="-4" width="8" height="8" rx="2" fill="#fff" stroke="#333" stroke-width="1.0"/><rect x="-2.7" y="-2.7" width="5.4" height="5.4" rx="1.2" fill="none" stroke="#888" stroke-width="0.5"/><path d="M-5,-3.2 L-5,3.2 M5,-3.2 L5,3.2" stroke="#444" stroke-width="0.8"/></g>
<line x1="598.5" y1="271.7" x2="591.3" y2="276.2" stroke="#333" stroke-width="1.6" />
<rect x="585.5" y="292.7" width="27.6" height="8.2" fill="#fff" stroke="#666" stroke-width="0.9" />
<line x1="588" y1="300.4" x2="613.1" y2="294" stroke="#888" stroke-width="0.6" />
<line x1="557.9" y1="364.6" x2="585.5" y2="364.6" stroke="#8e8e8e" stroke-width="2.4" />
<line x1="585.5" y1="364.6" x2="585.5" y2="337.3" stroke="#8e8e8e" stroke-width="3.0" />
<line x1="557.9" y1="364.6" x2="557.9" y2="353.1" stroke="#666" stroke-width="0.9" />
<line x1="557.9" y1="353.1" x2="567" y2="353.1" stroke="#666" stroke-width="0.9" />
<rect x="558.7" y="353.6" width="7.5" height="10" fill="none" stroke="#777" stroke-width="0.7" />
<line x1="558.7" y1="363.6" x2="566.2" y2="353.6" stroke="#777" stroke-width="0.5599999999999999" />
<line x1="558.7" y1="353.6" x2="566.2" y2="363.6" stroke="#777" stroke-width="0.5599999999999999" />
<line x1="573.4" y1="346.8" x2="573.4" y2="337.3" stroke="#666" stroke-width="0.9" />
<path d="M567,353.1 A6.4,6.4 0 0 0 573.4,346.8" stroke="#666" stroke-width="0.8" fill="none" />
<g transform="translate(567 346.8) rotate(45)"><rect x="-4" y="-4" width="8" height="8" rx="2" fill="#fff" stroke="#333" stroke-width="1.0"/><rect x="-2.7" y="-2.7" width="5.4" height="5.4" rx="1.2" fill="none" stroke="#888" stroke-width="0.5"/><path d="M-5,-3.2 L-5,3.2 M5,-3.2 L5,3.2" stroke="#444" stroke-width="0.8"/></g>
<line x1="572.5" y1="359.5" x2="579.7" y2="355" stroke="#333" stroke-width="1.6" />
<line x1="573.4" y1="337.3" x2="585.5" y2="337.3" stroke="#666" stroke-width="0.9" />
<line x1="613.1" y1="364.6" x2="585.5" y2="364.6" stroke="#8e8e8e" stroke-width="2.4" />
<line x1="585.5" y1="364.6" x2="585.5" y2="337.3" stroke="#8e8e8e" stroke-width="3.0" />
<line x1="613.1" y1="364.6" x2="613.1" y2="353.1" stroke="#666" stroke-width="0.9" />
<line x1="613.1" y1="353.1" x2="604" y2="353.1" stroke="#666" stroke-width="0.9" />
<rect x="604.8" y="353.6" width="7.5" height="10" fill="none" stroke="#777" stroke-width="0.7" />
<line x1="612.3" y1="363.6" x2="604.8" y2="353.6" stroke="#777" stroke-width="0.5599999999999999" />
<line x1="612.3" y1="353.6" x2="604.8" y2="363.6" stroke="#777" stroke-width="0.5599999999999999" />
<line x1="597.6" y1="346.8" x2="597.6" y2="337.3" stroke="#666" stroke-width="0.9" />
<path d="M604,353.1 A6.4,6.4 0 0 1 597.6,346.8" stroke="#666" stroke-width="0.8" fill="none" />
<g transform="translate(604 346.8) rotate(45)"><rect x="-4" y="-4" width="8" height="8" rx="2" fill="#fff" stroke="#333" stroke-width="1.0"/><rect x="-2.7" y="-2.7" width="5.4" height="5.4" rx="1.2" fill="none" stroke="#888" stroke-width="0.5"/><path d="M-5,-3.2 L-5,3.2 M5,-3.2 L5,3.2" stroke="#444" stroke-width="0.8"/></g>
<line x1="598.5" y1="359.5" x2="591.3" y2="355" stroke="#333" stroke-width="1.6" />
<line x1="597.6" y1="337.3" x2="585.5" y2="337.3" stroke="#666" stroke-width="0.9" />
<line x1="557.9" y1="364.6" x2="585.5" y2="364.6" stroke="#8e8e8e" stroke-width="2.4" />
<line x1="585.5" y1="364.6" x2="585.5" y2="390.7" stroke="#8e8e8e" stroke-width="3.0" />
<line x1="557.9" y1="364.6" x2="557.9" y2="376.1" stroke="#666" stroke-width="0.9" />
<line x1="557.9" y1="376.1" x2="567" y2="376.1" stroke="#666" stroke-width="0.9" />
<rect x="558.7" y="365.6" width="7.5" height="10" fill="none" stroke="#777" stroke-width="0.7" />
<line x1="558.7" y1="365.6" x2="566.2" y2="375.6" stroke="#777" stroke-width="0.5599999999999999" />
<line x1="558.7" y1="375.6" x2="566.2" y2="365.6" stroke="#777" stroke-width="0.5599999999999999" />
<line x1="573.4" y1="382.4" x2="573.4" y2="390.7" stroke="#666" stroke-width="0.9" />
<path d="M567,376.1 A6.4,6.4 0 0 1 573.4,382.4" stroke="#666" stroke-width="0.8" fill="none" />
<g transform="translate(567 382.4) rotate(45)"><rect x="-4" y="-4" width="8" height="8" rx="2" fill="#fff" stroke="#333" stroke-width="1.0"/><rect x="-2.7" y="-2.7" width="5.4" height="5.4" rx="1.2" fill="none" stroke="#888" stroke-width="0.5"/><path d="M-5,-3.2 L-5,3.2 M5,-3.2 L5,3.2" stroke="#444" stroke-width="0.8"/></g>
<line x1="572.5" y1="369.7" x2="579.7" y2="374.2" stroke="#333" stroke-width="1.6" />
<rect x="557.9" y="390.7" width="27.6" height="8.2" fill="#fff" stroke="#666" stroke-width="0.9" />
<line x1="560.4" y1="398.4" x2="585.5" y2="392" stroke="#888" stroke-width="0.6" />
<line x1="613.1" y1="364.6" x2="585.5" y2="364.6" stroke="#8e8e8e" stroke-width="2.4" />
<line x1="585.5" y1="364.6" x2="585.5" y2="390.7" stroke="#8e8e8e" stroke-width="3.0" />
<line x1="613.1" y1="364.6" x2="613.1" y2="376.1" stroke="#666" stroke-width="0.9" />
<line x1="613.1" y1="376.1" x2="604" y2="376.1" stroke="#666" stroke-width="0.9" />
<rect x="604.8" y="365.6" width="7.5" height="10" fill="none" stroke="#777" stroke-width="0.7" />
<line x1="612.3" y1="365.6" x2="604.8" y2="375.6" stroke="#777" stroke-width="0.5599999999999999" />
<line x1="612.3" y1="375.6" x2="604.8" y2="365.6" stroke="#777" stroke-width="0.5599999999999999" />
<line x1="597.6" y1="382.4" x2="597.6" y2="390.7" stroke="#666" stroke-width="0.9" />
<path d="M604,376.1 A6.4,6.4 0 0 0 597.6,382.4" stroke="#666" stroke-width="0.8" fill="none" />
<g transform="translate(604 382.4) rotate(45)"><rect x="-4" y="-4" width="8" height="8" rx="2" fill="#fff" stroke="#333" stroke-width="1.0"/><rect x="-2.7" y="-2.7" width="5.4" height="5.4" rx="1.2" fill="none" stroke="#888" stroke-width="0.5"/><path d="M-5,-3.2 L-5,3.2 M5,-3.2 L5,3.2" stroke="#444" stroke-width="0.8"/></g>
<line x1="598.5" y1="369.7" x2="591.3" y2="374.2" stroke="#333" stroke-width="1.6" />
<rect x="585.5" y="390.7" width="27.6" height="8.2" fill="#fff" stroke="#666" stroke-width="0.9" />
<line x1="588" y1="398.4" x2="613.1" y2="392" stroke="#888" stroke-width="0.6" />
<line x1="630.3" y1="215.6" x2="657.9" y2="215.6" stroke="#8e8e8e" stroke-width="2.4" />
<line x1="657.9" y1="215.6" x2="657.9" y2="189.5" stroke="#8e8e8e" stroke-width="3.0" />
<line x1="630.3" y1="215.6" x2="630.3" y2="204.1" stroke="#666" stroke-width="0.9" />
<line x1="630.3" y1="204.1" x2="639.4" y2="204.1" stroke="#666" stroke-width="0.9" />
<rect x="631.1" y="204.6" width="7.5" height="10" fill="none" stroke="#777" stroke-width="0.7" />
<line x1="631.1" y1="214.6" x2="638.6" y2="204.6" stroke="#777" stroke-width="0.5599999999999999" />
<line x1="631.1" y1="204.6" x2="638.6" y2="214.6" stroke="#777" stroke-width="0.5599999999999999" />
<line x1="645.8" y1="197.8" x2="645.8" y2="189.5" stroke="#666" stroke-width="0.9" />
<path d="M639.4,204.1 A6.4,6.4 0 0 0 645.8,197.8" stroke="#666" stroke-width="0.8" fill="none" />
<g transform="translate(639.4 197.8) rotate(45)"><rect x="-4" y="-4" width="8" height="8" rx="2" fill="#fff" stroke="#333" stroke-width="1.0"/><rect x="-2.7" y="-2.7" width="5.4" height="5.4" rx="1.2" fill="none" stroke="#888" stroke-width="0.5"/><path d="M-5,-3.2 L-5,3.2 M5,-3.2 L5,3.2" stroke="#444" stroke-width="0.8"/></g>
<line x1="644.9" y1="210.5" x2="652.1" y2="206" stroke="#333" stroke-width="1.6" />
<rect x="630.3" y="181.3" width="27.6" height="8.2" fill="#fff" stroke="#666" stroke-width="0.9" />
<line x1="632.8" y1="189" x2="657.9" y2="182.6" stroke="#888" stroke-width="0.6" />
<line x1="685.5" y1="215.6" x2="657.9" y2="215.6" stroke="#8e8e8e" stroke-width="2.4" />
<line x1="657.9" y1="215.6" x2="657.9" y2="189.5" stroke="#8e8e8e" stroke-width="3.0" />
<line x1="685.5" y1="215.6" x2="685.5" y2="204.1" stroke="#666" stroke-width="0.9" />
<line x1="685.5" y1="204.1" x2="676.4" y2="204.1" stroke="#666" stroke-width="0.9" />
<rect x="677.2" y="204.6" width="7.5" height="10" fill="none" stroke="#777" stroke-width="0.7" />
<line x1="684.7" y1="214.6" x2="677.2" y2="204.6" stroke="#777" stroke-width="0.5599999999999999" />
<line x1="684.7" y1="204.6" x2="677.2" y2="214.6" stroke="#777" stroke-width="0.5599999999999999" />
<line x1="670" y1="197.8" x2="670" y2="189.5" stroke="#666" stroke-width="0.9" />
<path d="M676.4,204.1 A6.4,6.4 0 0 1 670,197.8" stroke="#666" stroke-width="0.8" fill="none" />
<g transform="translate(676.4 197.8) rotate(45)"><rect x="-4" y="-4" width="8" height="8" rx="2" fill="#fff" stroke="#333" stroke-width="1.0"/><rect x="-2.7" y="-2.7" width="5.4" height="5.4" rx="1.2" fill="none" stroke="#888" stroke-width="0.5"/><path d="M-5,-3.2 L-5,3.2 M5,-3.2 L5,3.2" stroke="#444" stroke-width="0.8"/></g>
<line x1="670.9" y1="210.5" x2="663.7" y2="206" stroke="#333" stroke-width="1.6" />
<rect x="657.9" y="181.3" width="27.6" height="8.2" fill="#fff" stroke="#666" stroke-width="0.9" />
<line x1="660.4" y1="189" x2="685.5" y2="182.6" stroke="#888" stroke-width="0.6" />
<line x1="630.3" y1="266.6" x2="657.9" y2="266.6" stroke="#8e8e8e" stroke-width="2.4" />
<line x1="657.9" y1="266.6" x2="657.9" y2="240.5" stroke="#8e8e8e" stroke-width="3.0" />
<line x1="630.3" y1="266.6" x2="630.3" y2="255.1" stroke="#666" stroke-width="0.9" />
<line x1="630.3" y1="255.1" x2="639.4" y2="255.1" stroke="#666" stroke-width="0.9" />
<rect x="631.1" y="255.6" width="7.5" height="10" fill="none" stroke="#777" stroke-width="0.7" />
<line x1="631.1" y1="265.6" x2="638.6" y2="255.6" stroke="#777" stroke-width="0.5599999999999999" />
<line x1="631.1" y1="255.6" x2="638.6" y2="265.6" stroke="#777" stroke-width="0.5599999999999999" />
<line x1="645.8" y1="248.8" x2="645.8" y2="240.5" stroke="#666" stroke-width="0.9" />
<path d="M639.4,255.1 A6.4,6.4 0 0 0 645.8,248.8" stroke="#666" stroke-width="0.8" fill="none" />
<g transform="translate(639.4 248.8) rotate(45)"><rect x="-4" y="-4" width="8" height="8" rx="2" fill="#fff" stroke="#333" stroke-width="1.0"/><rect x="-2.7" y="-2.7" width="5.4" height="5.4" rx="1.2" fill="none" stroke="#888" stroke-width="0.5"/><path d="M-5,-3.2 L-5,3.2 M5,-3.2 L5,3.2" stroke="#444" stroke-width="0.8"/></g>
<line x1="644.9" y1="261.5" x2="652.1" y2="257" stroke="#333" stroke-width="1.6" />
<rect x="630.3" y="232.3" width="27.6" height="8.2" fill="#fff" stroke="#666" stroke-width="0.9" />
<line x1="632.8" y1="240" x2="657.9" y2="233.6" stroke="#888" stroke-width="0.6" />
<line x1="685.5" y1="266.6" x2="657.9" y2="266.6" stroke="#8e8e8e" stroke-width="2.4" />
<line x1="657.9" y1="266.6" x2="657.9" y2="240.5" stroke="#8e8e8e" stroke-width="3.0" />
<line x1="685.5" y1="266.6" x2="685.5" y2="255.1" stroke="#666" stroke-width="0.9" />
<line x1="685.5" y1="255.1" x2="676.4" y2="255.1" stroke="#666" stroke-width="0.9" />
<rect x="677.2" y="255.6" width="7.5" height="10" fill="none" stroke="#777" stroke-width="0.7" />
<line x1="684.7" y1="265.6" x2="677.2" y2="255.6" stroke="#777" stroke-width="0.5599999999999999" />
<line x1="684.7" y1="255.6" x2="677.2" y2="265.6" stroke="#777" stroke-width="0.5599999999999999" />
<line x1="670" y1="248.8" x2="670" y2="240.5" stroke="#666" stroke-width="0.9" />
<path d="M676.4,255.1 A6.4,6.4 0 0 1 670,248.8" stroke="#666" stroke-width="0.8" fill="none" />
<g transform="translate(676.4 248.8) rotate(45)"><rect x="-4" y="-4" width="8" height="8" rx="2" fill="#fff" stroke="#333" stroke-width="1.0"/><rect x="-2.7" y="-2.7" width="5.4" height="5.4" rx="1.2" fill="none" stroke="#888" stroke-width="0.5"/><path d="M-5,-3.2 L-5,3.2 M5,-3.2 L5,3.2" stroke="#444" stroke-width="0.8"/></g>
<line x1="670.9" y1="261.5" x2="663.7" y2="257" stroke="#333" stroke-width="1.6" />
<rect x="657.9" y="232.3" width="27.6" height="8.2" fill="#fff" stroke="#666" stroke-width="0.9" />
<line x1="660.4" y1="240" x2="685.5" y2="233.6" stroke="#888" stroke-width="0.6" />
<line x1="630.3" y1="266.6" x2="657.9" y2="266.6" stroke="#8e8e8e" stroke-width="2.4" />
<line x1="657.9" y1="266.6" x2="657.9" y2="292.7" stroke="#8e8e8e" stroke-width="3.0" />
<line x1="630.3" y1="266.6" x2="630.3" y2="278.1" stroke="#666" stroke-width="0.9" />
<line x1="630.3" y1="278.1" x2="639.4" y2="278.1" stroke="#666" stroke-width="0.9" />
<rect x="631.1" y="267.6" width="7.5" height="10" fill="none" stroke="#777" stroke-width="0.7" />
<line x1="631.1" y1="267.6" x2="638.6" y2="277.6" stroke="#777" stroke-width="0.5599999999999999" />
<line x1="631.1" y1="277.6" x2="638.6" y2="267.6" stroke="#777" stroke-width="0.5599999999999999" />
<line x1="645.8" y1="284.4" x2="645.8" y2="292.7" stroke="#666" stroke-width="0.9" />
<path d="M639.4,278.1 A6.4,6.4 0 0 1 645.8,284.4" stroke="#666" stroke-width="0.8" fill="none" />
<g transform="translate(639.4 284.4) rotate(45)"><rect x="-4" y="-4" width="8" height="8" rx="2" fill="#fff" stroke="#333" stroke-width="1.0"/><rect x="-2.7" y="-2.7" width="5.4" height="5.4" rx="1.2" fill="none" stroke="#888" stroke-width="0.5"/><path d="M-5,-3.2 L-5,3.2 M5,-3.2 L5,3.2" stroke="#444" stroke-width="0.8"/></g>
<line x1="644.9" y1="271.7" x2="652.1" y2="276.2" stroke="#333" stroke-width="1.6" />
<rect x="630.3" y="292.7" width="27.6" height="8.2" fill="#fff" stroke="#666" stroke-width="0.9" />
<line x1="632.8" y1="300.4" x2="657.9" y2="294" stroke="#888" stroke-width="0.6" />
<line x1="685.5" y1="266.6" x2="657.9" y2="266.6" stroke="#8e8e8e" stroke-width="2.4" />
<line x1="657.9" y1="266.6" x2="657.9" y2="292.7" stroke="#8e8e8e" stroke-width="3.0" />
<line x1="685.5" y1="266.6" x2="685.5" y2="278.1" stroke="#666" stroke-width="0.9" />
<line x1="685.5" y1="278.1" x2="676.4" y2="278.1" stroke="#666" stroke-width="0.9" />
<rect x="677.2" y="267.6" width="7.5" height="10" fill="none" stroke="#777" stroke-width="0.7" />
<line x1="684.7" y1="267.6" x2="677.2" y2="277.6" stroke="#777" stroke-width="0.5599999999999999" />
<line x1="684.7" y1="277.6" x2="677.2" y2="267.6" stroke="#777" stroke-width="0.5599999999999999" />
<line x1="670" y1="284.4" x2="670" y2="292.7" stroke="#666" stroke-width="0.9" />
<path d="M676.4,278.1 A6.4,6.4 0 0 0 670,284.4" stroke="#666" stroke-width="0.8" fill="none" />
<g transform="translate(676.4 284.4) rotate(45)"><rect x="-4" y="-4" width="8" height="8" rx="2" fill="#fff" stroke="#333" stroke-width="1.0"/><rect x="-2.7" y="-2.7" width="5.4" height="5.4" rx="1.2" fill="none" stroke="#888" stroke-width="0.5"/><path d="M-5,-3.2 L-5,3.2 M5,-3.2 L5,3.2" stroke="#444" stroke-width="0.8"/></g>
<line x1="670.9" y1="271.7" x2="663.7" y2="276.2" stroke="#333" stroke-width="1.6" />
<rect x="657.9" y="292.7" width="27.6" height="8.2" fill="#fff" stroke="#666" stroke-width="0.9" />
<line x1="660.4" y1="300.4" x2="685.5" y2="294" stroke="#888" stroke-width="0.6" />
<line x1="630.3" y1="364.6" x2="657.9" y2="364.6" stroke="#8e8e8e" stroke-width="2.4" />
<line x1="657.9" y1="364.6" x2="657.9" y2="337.3" stroke="#8e8e8e" stroke-width="3.0" />
<line x1="630.3" y1="364.6" x2="630.3" y2="353.1" stroke="#666" stroke-width="0.9" />
<line x1="630.3" y1="353.1" x2="639.4" y2="353.1" stroke="#666" stroke-width="0.9" />
<rect x="631.1" y="353.6" width="7.5" height="10" fill="none" stroke="#777" stroke-width="0.7" />
<line x1="631.1" y1="363.6" x2="638.6" y2="353.6" stroke="#777" stroke-width="0.5599999999999999" />
<line x1="631.1" y1="353.6" x2="638.6" y2="363.6" stroke="#777" stroke-width="0.5599999999999999" />
<line x1="645.8" y1="346.8" x2="645.8" y2="337.3" stroke="#666" stroke-width="0.9" />
<path d="M639.4,353.1 A6.4,6.4 0 0 0 645.8,346.8" stroke="#666" stroke-width="0.8" fill="none" />
<g transform="translate(639.4 346.8) rotate(45)"><rect x="-4" y="-4" width="8" height="8" rx="2" fill="#fff" stroke="#333" stroke-width="1.0"/><rect x="-2.7" y="-2.7" width="5.4" height="5.4" rx="1.2" fill="none" stroke="#888" stroke-width="0.5"/><path d="M-5,-3.2 L-5,3.2 M5,-3.2 L5,3.2" stroke="#444" stroke-width="0.8"/></g>
<line x1="644.9" y1="359.5" x2="652.1" y2="355" stroke="#333" stroke-width="1.6" />
<line x1="645.8" y1="337.3" x2="657.9" y2="337.3" stroke="#666" stroke-width="0.9" />
<line x1="685.5" y1="364.6" x2="657.9" y2="364.6" stroke="#8e8e8e" stroke-width="2.4" />
<line x1="657.9" y1="364.6" x2="657.9" y2="337.3" stroke="#8e8e8e" stroke-width="3.0" />
<line x1="685.5" y1="364.6" x2="685.5" y2="353.1" stroke="#666" stroke-width="0.9" />
<line x1="685.5" y1="353.1" x2="676.4" y2="353.1" stroke="#666" stroke-width="0.9" />
<rect x="677.2" y="353.6" width="7.5" height="10" fill="none" stroke="#777" stroke-width="0.7" />
<line x1="684.7" y1="363.6" x2="677.2" y2="353.6" stroke="#777" stroke-width="0.5599999999999999" />
<line x1="684.7" y1="353.6" x2="677.2" y2="363.6" stroke="#777" stroke-width="0.5599999999999999" />
<line x1="670" y1="346.8" x2="670" y2="337.3" stroke="#666" stroke-width="0.9" />
<path d="M676.4,353.1 A6.4,6.4 0 0 1 670,346.8" stroke="#666" stroke-width="0.8" fill="none" />
<g transform="translate(676.4 346.8) rotate(45)"><rect x="-4" y="-4" width="8" height="8" rx="2" fill="#fff" stroke="#333" stroke-width="1.0"/><rect x="-2.7" y="-2.7" width="5.4" height="5.4" rx="1.2" fill="none" stroke="#888" stroke-width="0.5"/><path d="M-5,-3.2 L-5,3.2 M5,-3.2 L5,3.2" stroke="#444" stroke-width="0.8"/></g>
<line x1="670.9" y1="359.5" x2="663.7" y2="355" stroke="#333" stroke-width="1.6" />
<line x1="670" y1="337.3" x2="657.9" y2="337.3" stroke="#666" stroke-width="0.9" />
<line x1="630.3" y1="364.6" x2="657.9" y2="364.6" stroke="#8e8e8e" stroke-width="2.4" />
<line x1="657.9" y1="364.6" x2="657.9" y2="390.7" stroke="#8e8e8e" stroke-width="3.0" />
<line x1="630.3" y1="364.6" x2="630.3" y2="376.1" stroke="#666" stroke-width="0.9" />
<line x1="630.3" y1="376.1" x2="639.4" y2="376.1" stroke="#666" stroke-width="0.9" />
<rect x="631.1" y="365.6" width="7.5" height="10" fill="none" stroke="#777" stroke-width="0.7" />
<line x1="631.1" y1="365.6" x2="638.6" y2="375.6" stroke="#777" stroke-width="0.5599999999999999" />
<line x1="631.1" y1="375.6" x2="638.6" y2="365.6" stroke="#777" stroke-width="0.5599999999999999" />
<line x1="645.8" y1="382.4" x2="645.8" y2="390.7" stroke="#666" stroke-width="0.9" />
<path d="M639.4,376.1 A6.4,6.4 0 0 1 645.8,382.4" stroke="#666" stroke-width="0.8" fill="none" />
<g transform="translate(639.4 382.4) rotate(45)"><rect x="-4" y="-4" width="8" height="8" rx="2" fill="#fff" stroke="#333" stroke-width="1.0"/><rect x="-2.7" y="-2.7" width="5.4" height="5.4" rx="1.2" fill="none" stroke="#888" stroke-width="0.5"/><path d="M-5,-3.2 L-5,3.2 M5,-3.2 L5,3.2" stroke="#444" stroke-width="0.8"/></g>
<line x1="644.9" y1="369.7" x2="652.1" y2="374.2" stroke="#333" stroke-width="1.6" />
<rect x="630.3" y="390.7" width="27.6" height="8.2" fill="#fff" stroke="#666" stroke-width="0.9" />
<line x1="632.8" y1="398.4" x2="657.9" y2="392" stroke="#888" stroke-width="0.6" />
<line x1="685.5" y1="364.6" x2="657.9" y2="364.6" stroke="#8e8e8e" stroke-width="2.4" />
<line x1="657.9" y1="364.6" x2="657.9" y2="390.7" stroke="#8e8e8e" stroke-width="3.0" />
<line x1="685.5" y1="364.6" x2="685.5" y2="376.1" stroke="#666" stroke-width="0.9" />
<line x1="685.5" y1="376.1" x2="676.4" y2="376.1" stroke="#666" stroke-width="0.9" />
<rect x="677.2" y="365.6" width="7.5" height="10" fill="none" stroke="#777" stroke-width="0.7" />
<line x1="684.7" y1="365.6" x2="677.2" y2="375.6" stroke="#777" stroke-width="0.5599999999999999" />
<line x1="684.7" y1="375.6" x2="677.2" y2="365.6" stroke="#777" stroke-width="0.5599999999999999" />
<line x1="670" y1="382.4" x2="670" y2="390.7" stroke="#666" stroke-width="0.9" />
<path d="M676.4,376.1 A6.4,6.4 0 0 0 670,382.4" stroke="#666" stroke-width="0.8" fill="none" />
<g transform="translate(676.4 382.4) rotate(45)"><rect x="-4" y="-4" width="8" height="8" rx="2" fill="#fff" stroke="#333" stroke-width="1.0"/><rect x="-2.7" y="-2.7" width="5.4" height="5.4" rx="1.2" fill="none" stroke="#888" stroke-width="0.5"/><path d="M-5,-3.2 L-5,3.2 M5,-3.2 L5,3.2" stroke="#444" stroke-width="0.8"/></g>
<line x1="670.9" y1="369.7" x2="663.7" y2="374.2" stroke="#333" stroke-width="1.6" />
<rect x="657.9" y="390.7" width="27.6" height="8.2" fill="#fff" stroke="#666" stroke-width="0.9" />
<line x1="660.4" y1="398.4" x2="685.5" y2="392" stroke="#888" stroke-width="0.6" />
<line x1="702.1" y1="215.6" x2="729.7" y2="215.6" stroke="#8e8e8e" stroke-width="2.4" />
<line x1="729.7" y1="215.6" x2="729.7" y2="189.5" stroke="#8e8e8e" stroke-width="3.0" />
<line x1="702.1" y1="215.6" x2="702.1" y2="204.1" stroke="#666" stroke-width="0.9" />
<line x1="702.1" y1="204.1" x2="711.2" y2="204.1" stroke="#666" stroke-width="0.9" />
<rect x="702.9" y="204.6" width="7.5" height="10" fill="none" stroke="#777" stroke-width="0.7" />
<line x1="702.9" y1="214.6" x2="710.4" y2="204.6" stroke="#777" stroke-width="0.5599999999999999" />
<line x1="702.9" y1="204.6" x2="710.4" y2="214.6" stroke="#777" stroke-width="0.5599999999999999" />
<line x1="717.6" y1="197.8" x2="717.6" y2="189.5" stroke="#666" stroke-width="0.9" />
<path d="M711.2,204.1 A6.4,6.4 0 0 0 717.6,197.8" stroke="#666" stroke-width="0.8" fill="none" />
<g transform="translate(711.2 197.8) rotate(45)"><rect x="-4" y="-4" width="8" height="8" rx="2" fill="#fff" stroke="#333" stroke-width="1.0"/><rect x="-2.7" y="-2.7" width="5.4" height="5.4" rx="1.2" fill="none" stroke="#888" stroke-width="0.5"/><path d="M-5,-3.2 L-5,3.2 M5,-3.2 L5,3.2" stroke="#444" stroke-width="0.8"/></g>
<line x1="716.7" y1="210.5" x2="723.9" y2="206" stroke="#333" stroke-width="1.6" />
<rect x="702.1" y="181.3" width="27.6" height="8.2" fill="#fff" stroke="#666" stroke-width="0.9" />
<line x1="704.6" y1="189" x2="729.7" y2="182.6" stroke="#888" stroke-width="0.6" />
<line x1="757.3" y1="215.6" x2="729.7" y2="215.6" stroke="#8e8e8e" stroke-width="2.4" />
<line x1="729.7" y1="215.6" x2="729.7" y2="189.5" stroke="#8e8e8e" stroke-width="3.0" />
<line x1="757.3" y1="215.6" x2="757.3" y2="204.1" stroke="#666" stroke-width="0.9" />
<line x1="757.3" y1="204.1" x2="748.2" y2="204.1" stroke="#666" stroke-width="0.9" />
<rect x="749" y="204.6" width="7.5" height="10" fill="none" stroke="#777" stroke-width="0.7" />
<line x1="756.5" y1="214.6" x2="749" y2="204.6" stroke="#777" stroke-width="0.5599999999999999" />
<line x1="756.5" y1="204.6" x2="749" y2="214.6" stroke="#777" stroke-width="0.5599999999999999" />
<line x1="741.8" y1="197.8" x2="741.8" y2="189.5" stroke="#666" stroke-width="0.9" />
<path d="M748.2,204.1 A6.4,6.4 0 0 1 741.8,197.8" stroke="#666" stroke-width="0.8" fill="none" />
<g transform="translate(748.2 197.8) rotate(45)"><rect x="-4" y="-4" width="8" height="8" rx="2" fill="#fff" stroke="#333" stroke-width="1.0"/><rect x="-2.7" y="-2.7" width="5.4" height="5.4" rx="1.2" fill="none" stroke="#888" stroke-width="0.5"/><path d="M-5,-3.2 L-5,3.2 M5,-3.2 L5,3.2" stroke="#444" stroke-width="0.8"/></g>
<line x1="742.7" y1="210.5" x2="735.5" y2="206" stroke="#333" stroke-width="1.6" />
<rect x="729.7" y="181.3" width="27.6" height="8.2" fill="#fff" stroke="#666" stroke-width="0.9" />
<line x1="732.2" y1="189" x2="757.3" y2="182.6" stroke="#888" stroke-width="0.6" />
<line x1="702.1" y1="266.6" x2="729.7" y2="266.6" stroke="#8e8e8e" stroke-width="2.4" />
<line x1="729.7" y1="266.6" x2="729.7" y2="240.5" stroke="#8e8e8e" stroke-width="3.0" />
<line x1="702.1" y1="266.6" x2="702.1" y2="255.1" stroke="#666" stroke-width="0.9" />
<line x1="702.1" y1="255.1" x2="711.2" y2="255.1" stroke="#666" stroke-width="0.9" />
<rect x="702.9" y="255.6" width="7.5" height="10" fill="none" stroke="#777" stroke-width="0.7" />
<line x1="702.9" y1="265.6" x2="710.4" y2="255.6" stroke="#777" stroke-width="0.5599999999999999" />
<line x1="702.9" y1="255.6" x2="710.4" y2="265.6" stroke="#777" stroke-width="0.5599999999999999" />
<line x1="717.6" y1="248.8" x2="717.6" y2="240.5" stroke="#666" stroke-width="0.9" />
<path d="M711.2,255.1 A6.4,6.4 0 0 0 717.6,248.8" stroke="#666" stroke-width="0.8" fill="none" />
<g transform="translate(711.2 248.8) rotate(45)"><rect x="-4" y="-4" width="8" height="8" rx="2" fill="#fff" stroke="#333" stroke-width="1.0"/><rect x="-2.7" y="-2.7" width="5.4" height="5.4" rx="1.2" fill="none" stroke="#888" stroke-width="0.5"/><path d="M-5,-3.2 L-5,3.2 M5,-3.2 L5,3.2" stroke="#444" stroke-width="0.8"/></g>
<line x1="716.7" y1="261.5" x2="723.9" y2="257" stroke="#333" stroke-width="1.6" />
<rect x="702.1" y="232.3" width="27.6" height="8.2" fill="#fff" stroke="#666" stroke-width="0.9" />
<line x1="704.6" y1="240" x2="729.7" y2="233.6" stroke="#888" stroke-width="0.6" />
<line x1="757.3" y1="266.6" x2="729.7" y2="266.6" stroke="#8e8e8e" stroke-width="2.4" />
<line x1="729.7" y1="266.6" x2="729.7" y2="240.5" stroke="#8e8e8e" stroke-width="3.0" />
<line x1="757.3" y1="266.6" x2="757.3" y2="255.1" stroke="#666" stroke-width="0.9" />
<line x1="757.3" y1="255.1" x2="748.2" y2="255.1" stroke="#666" stroke-width="0.9" />
<rect x="749" y="255.6" width="7.5" height="10" fill="none" stroke="#777" stroke-width="0.7" />
<line x1="756.5" y1="265.6" x2="749" y2="255.6" stroke="#777" stroke-width="0.5599999999999999" />
<line x1="756.5" y1="255.6" x2="749" y2="265.6" stroke="#777" stroke-width="0.5599999999999999" />
<line x1="741.8" y1="248.8" x2="741.8" y2="240.5" stroke="#666" stroke-width="0.9" />
<path d="M748.2,255.1 A6.4,6.4 0 0 1 741.8,248.8" stroke="#666" stroke-width="0.8" fill="none" />
<g transform="translate(748.2 248.8) rotate(45)"><rect x="-4" y="-4" width="8" height="8" rx="2" fill="#fff" stroke="#333" stroke-width="1.0"/><rect x="-2.7" y="-2.7" width="5.4" height="5.4" rx="1.2" fill="none" stroke="#888" stroke-width="0.5"/><path d="M-5,-3.2 L-5,3.2 M5,-3.2 L5,3.2" stroke="#444" stroke-width="0.8"/></g>
<line x1="742.7" y1="261.5" x2="735.5" y2="257" stroke="#333" stroke-width="1.6" />
<rect x="729.7" y="232.3" width="27.6" height="8.2" fill="#fff" stroke="#666" stroke-width="0.9" />
<line x1="732.2" y1="240" x2="757.3" y2="233.6" stroke="#888" stroke-width="0.6" />
<line x1="702.1" y1="266.6" x2="729.7" y2="266.6" stroke="#8e8e8e" stroke-width="2.4" />
<line x1="729.7" y1="266.6" x2="729.7" y2="292.7" stroke="#8e8e8e" stroke-width="3.0" />
<line x1="702.1" y1="266.6" x2="702.1" y2="278.1" stroke="#666" stroke-width="0.9" />
<line x1="702.1" y1="278.1" x2="711.2" y2="278.1" stroke="#666" stroke-width="0.9" />
<rect x="702.9" y="267.6" width="7.5" height="10" fill="none" stroke="#777" stroke-width="0.7" />
<line x1="702.9" y1="267.6" x2="710.4" y2="277.6" stroke="#777" stroke-width="0.5599999999999999" />
<line x1="702.9" y1="277.6" x2="710.4" y2="267.6" stroke="#777" stroke-width="0.5599999999999999" />
<line x1="717.6" y1="284.4" x2="717.6" y2="292.7" stroke="#666" stroke-width="0.9" />
<path d="M711.2,278.1 A6.4,6.4 0 0 1 717.6,284.4" stroke="#666" stroke-width="0.8" fill="none" />
<g transform="translate(711.2 284.4) rotate(45)"><rect x="-4" y="-4" width="8" height="8" rx="2" fill="#fff" stroke="#333" stroke-width="1.0"/><rect x="-2.7" y="-2.7" width="5.4" height="5.4" rx="1.2" fill="none" stroke="#888" stroke-width="0.5"/><path d="M-5,-3.2 L-5,3.2 M5,-3.2 L5,3.2" stroke="#444" stroke-width="0.8"/></g>
<line x1="716.7" y1="271.7" x2="723.9" y2="276.2" stroke="#333" stroke-width="1.6" />
<rect x="702.1" y="292.7" width="27.6" height="8.2" fill="#fff" stroke="#666" stroke-width="0.9" />
<line x1="704.6" y1="300.4" x2="729.7" y2="294" stroke="#888" stroke-width="0.6" />
<line x1="757.3" y1="266.6" x2="729.7" y2="266.6" stroke="#8e8e8e" stroke-width="2.4" />
<line x1="729.7" y1="266.6" x2="729.7" y2="292.7" stroke="#8e8e8e" stroke-width="3.0" />
<line x1="757.3" y1="266.6" x2="757.3" y2="278.1" stroke="#666" stroke-width="0.9" />
<line x1="757.3" y1="278.1" x2="748.2" y2="278.1" stroke="#666" stroke-width="0.9" />
<rect x="749" y="267.6" width="7.5" height="10" fill="none" stroke="#777" stroke-width="0.7" />
<line x1="756.5" y1="267.6" x2="749" y2="277.6" stroke="#777" stroke-width="0.5599999999999999" />
<line x1="756.5" y1="277.6" x2="749" y2="267.6" stroke="#777" stroke-width="0.5599999999999999" />
<line x1="741.8" y1="284.4" x2="741.8" y2="292.7" stroke="#666" stroke-width="0.9" />
<path d="M748.2,278.1 A6.4,6.4 0 0 0 741.8,284.4" stroke="#666" stroke-width="0.8" fill="none" />
<g transform="translate(748.2 284.4) rotate(45)"><rect x="-4" y="-4" width="8" height="8" rx="2" fill="#fff" stroke="#333" stroke-width="1.0"/><rect x="-2.7" y="-2.7" width="5.4" height="5.4" rx="1.2" fill="none" stroke="#888" stroke-width="0.5"/><path d="M-5,-3.2 L-5,3.2 M5,-3.2 L5,3.2" stroke="#444" stroke-width="0.8"/></g>
<line x1="742.7" y1="271.7" x2="735.5" y2="276.2" stroke="#333" stroke-width="1.6" />
<rect x="729.7" y="292.7" width="27.6" height="8.2" fill="#fff" stroke="#666" stroke-width="0.9" />
<line x1="732.2" y1="300.4" x2="757.3" y2="294" stroke="#888" stroke-width="0.6" />
<line x1="702.1" y1="364.6" x2="729.7" y2="364.6" stroke="#8e8e8e" stroke-width="2.4" />
<line x1="729.7" y1="364.6" x2="729.7" y2="337.3" stroke="#8e8e8e" stroke-width="3.0" />
<line x1="702.1" y1="364.6" x2="702.1" y2="353.1" stroke="#666" stroke-width="0.9" />
<line x1="702.1" y1="353.1" x2="711.2" y2="353.1" stroke="#666" stroke-width="0.9" />
<rect x="702.9" y="353.6" width="7.5" height="10" fill="none" stroke="#777" stroke-width="0.7" />
<line x1="702.9" y1="363.6" x2="710.4" y2="353.6" stroke="#777" stroke-width="0.5599999999999999" />
<line x1="702.9" y1="353.6" x2="710.4" y2="363.6" stroke="#777" stroke-width="0.5599999999999999" />
<line x1="717.6" y1="346.8" x2="717.6" y2="337.3" stroke="#666" stroke-width="0.9" />
<path d="M711.2,353.1 A6.4,6.4 0 0 0 717.6,346.8" stroke="#666" stroke-width="0.8" fill="none" />
<g transform="translate(711.2 346.8) rotate(45)"><rect x="-4" y="-4" width="8" height="8" rx="2" fill="#fff" stroke="#333" stroke-width="1.0"/><rect x="-2.7" y="-2.7" width="5.4" height="5.4" rx="1.2" fill="none" stroke="#888" stroke-width="0.5"/><path d="M-5,-3.2 L-5,3.2 M5,-3.2 L5,3.2" stroke="#444" stroke-width="0.8"/></g>
<line x1="716.7" y1="359.5" x2="723.9" y2="355" stroke="#333" stroke-width="1.6" />
<line x1="717.6" y1="337.3" x2="729.7" y2="337.3" stroke="#666" stroke-width="0.9" />
<line x1="757.3" y1="364.6" x2="729.7" y2="364.6" stroke="#8e8e8e" stroke-width="2.4" />
<line x1="729.7" y1="364.6" x2="729.7" y2="337.3" stroke="#8e8e8e" stroke-width="3.0" />
<line x1="757.3" y1="364.6" x2="757.3" y2="353.1" stroke="#666" stroke-width="0.9" />
<line x1="757.3" y1="353.1" x2="748.2" y2="353.1" stroke="#666" stroke-width="0.9" />
<rect x="749" y="353.6" width="7.5" height="10" fill="none" stroke="#777" stroke-width="0.7" />
<line x1="756.5" y1="363.6" x2="749" y2="353.6" stroke="#777" stroke-width="0.5599999999999999" />
<line x1="756.5" y1="353.6" x2="749" y2="363.6" stroke="#777" stroke-width="0.5599999999999999" />
<line x1="741.8" y1="346.8" x2="741.8" y2="337.3" stroke="#666" stroke-width="0.9" />
<path d="M748.2,353.1 A6.4,6.4 0 0 1 741.8,346.8" stroke="#666" stroke-width="0.8" fill="none" />
<g transform="translate(748.2 346.8) rotate(45)"><rect x="-4" y="-4" width="8" height="8" rx="2" fill="#fff" stroke="#333" stroke-width="1.0"/><rect x="-2.7" y="-2.7" width="5.4" height="5.4" rx="1.2" fill="none" stroke="#888" stroke-width="0.5"/><path d="M-5,-3.2 L-5,3.2 M5,-3.2 L5,3.2" stroke="#444" stroke-width="0.8"/></g>
<line x1="742.7" y1="359.5" x2="735.5" y2="355" stroke="#333" stroke-width="1.6" />
<line x1="741.8" y1="337.3" x2="729.7" y2="337.3" stroke="#666" stroke-width="0.9" />
<line x1="702.1" y1="364.6" x2="729.7" y2="364.6" stroke="#8e8e8e" stroke-width="2.4" />
<line x1="729.7" y1="364.6" x2="729.7" y2="390.7" stroke="#8e8e8e" stroke-width="3.0" />
<line x1="702.1" y1="364.6" x2="702.1" y2="376.1" stroke="#666" stroke-width="0.9" />
<line x1="702.1" y1="376.1" x2="711.2" y2="376.1" stroke="#666" stroke-width="0.9" />
<rect x="702.9" y="365.6" width="7.5" height="10" fill="none" stroke="#777" stroke-width="0.7" />
<line x1="702.9" y1="365.6" x2="710.4" y2="375.6" stroke="#777" stroke-width="0.5599999999999999" />
<line x1="702.9" y1="375.6" x2="710.4" y2="365.6" stroke="#777" stroke-width="0.5599999999999999" />
<line x1="717.6" y1="382.4" x2="717.6" y2="390.7" stroke="#666" stroke-width="0.9" />
<path d="M711.2,376.1 A6.4,6.4 0 0 1 717.6,382.4" stroke="#666" stroke-width="0.8" fill="none" />
<g transform="translate(711.2 382.4) rotate(45)"><rect x="-4" y="-4" width="8" height="8" rx="2" fill="#fff" stroke="#333" stroke-width="1.0"/><rect x="-2.7" y="-2.7" width="5.4" height="5.4" rx="1.2" fill="none" stroke="#888" stroke-width="0.5"/><path d="M-5,-3.2 L-5,3.2 M5,-3.2 L5,3.2" stroke="#444" stroke-width="0.8"/></g>
<line x1="716.7" y1="369.7" x2="723.9" y2="374.2" stroke="#333" stroke-width="1.6" />
<rect x="702.1" y="390.7" width="27.6" height="8.2" fill="#fff" stroke="#666" stroke-width="0.9" />
<line x1="704.6" y1="398.4" x2="729.7" y2="392" stroke="#888" stroke-width="0.6" />
<line x1="757.3" y1="364.6" x2="729.7" y2="364.6" stroke="#8e8e8e" stroke-width="2.4" />
<line x1="729.7" y1="364.6" x2="729.7" y2="390.7" stroke="#8e8e8e" stroke-width="3.0" />
<line x1="757.3" y1="364.6" x2="757.3" y2="376.1" stroke="#666" stroke-width="0.9" />
<line x1="757.3" y1="376.1" x2="748.2" y2="376.1" stroke="#666" stroke-width="0.9" />
<rect x="749" y="365.6" width="7.5" height="10" fill="none" stroke="#777" stroke-width="0.7" />
<line x1="756.5" y1="365.6" x2="749" y2="375.6" stroke="#777" stroke-width="0.5599999999999999" />
<line x1="756.5" y1="375.6" x2="749" y2="365.6" stroke="#777" stroke-width="0.5599999999999999" />
<line x1="741.8" y1="382.4" x2="741.8" y2="390.7" stroke="#666" stroke-width="0.9" />
<path d="M748.2,376.1 A6.4,6.4 0 0 0 741.8,382.4" stroke="#666" stroke-width="0.8" fill="none" />
<g transform="translate(748.2 382.4) rotate(45)"><rect x="-4" y="-4" width="8" height="8" rx="2" fill="#fff" stroke="#333" stroke-width="1.0"/><rect x="-2.7" y="-2.7" width="5.4" height="5.4" rx="1.2" fill="none" stroke="#888" stroke-width="0.5"/><path d="M-5,-3.2 L-5,3.2 M5,-3.2 L5,3.2" stroke="#444" stroke-width="0.8"/></g>
<line x1="742.7" y1="369.7" x2="735.5" y2="374.2" stroke="#333" stroke-width="1.6" />
<rect x="729.7" y="390.7" width="27.6" height="8.2" fill="#fff" stroke="#666" stroke-width="0.9" />
<line x1="732.2" y1="398.4" x2="757.3" y2="392" stroke="#888" stroke-width="0.6" />
<line x1="453.6" y1="266.6" x2="426" y2="266.6" stroke="#8e8e8e" stroke-width="2.4" />
<line x1="426" y1="266.6" x2="426" y2="240.5" stroke="#8e8e8e" stroke-width="3.0" />
<line x1="453.6" y1="266.6" x2="453.6" y2="255.1" stroke="#666" stroke-width="0.9" />
<line x1="453.6" y1="255.1" x2="444.5" y2="255.1" stroke="#666" stroke-width="0.9" />
<rect x="445.3" y="255.6" width="7.5" height="10" fill="none" stroke="#777" stroke-width="0.7" />
<line x1="452.8" y1="265.6" x2="445.3" y2="255.6" stroke="#777" stroke-width="0.5599999999999999" />
<line x1="452.8" y1="255.6" x2="445.3" y2="265.6" stroke="#777" stroke-width="0.5599999999999999" />
<line x1="438.1" y1="248.8" x2="438.1" y2="240.5" stroke="#666" stroke-width="0.9" />
<path d="M444.5,255.1 A6.4,6.4 0 0 1 438.1,248.8" stroke="#666" stroke-width="0.8" fill="none" />
<g transform="translate(444.5 248.8) rotate(45)"><rect x="-4" y="-4" width="8" height="8" rx="2" fill="#fff" stroke="#333" stroke-width="1.0"/><rect x="-2.7" y="-2.7" width="5.4" height="5.4" rx="1.2" fill="none" stroke="#888" stroke-width="0.5"/><path d="M-5,-3.2 L-5,3.2 M5,-3.2 L5,3.2" stroke="#444" stroke-width="0.8"/></g>
<line x1="439" y1="261.5" x2="431.8" y2="257" stroke="#333" stroke-width="1.6" />
<rect x="426" y="232.3" width="27.6" height="8.2" fill="#fff" stroke="#666" stroke-width="0.9" />
<line x1="428.5" y1="240" x2="453.6" y2="233.6" stroke="#888" stroke-width="0.6" />
<line x1="453.6" y1="266.6" x2="426" y2="266.6" stroke="#8e8e8e" stroke-width="2.4" />
<line x1="426" y1="266.6" x2="426" y2="292.7" stroke="#8e8e8e" stroke-width="3.0" />
<line x1="453.6" y1="266.6" x2="453.6" y2="278.1" stroke="#666" stroke-width="0.9" />
<line x1="453.6" y1="278.1" x2="444.5" y2="278.1" stroke="#666" stroke-width="0.9" />
<rect x="445.3" y="267.6" width="7.5" height="10" fill="none" stroke="#777" stroke-width="0.7" />
<line x1="452.8" y1="267.6" x2="445.3" y2="277.6" stroke="#777" stroke-width="0.5599999999999999" />
<line x1="452.8" y1="277.6" x2="445.3" y2="267.6" stroke="#777" stroke-width="0.5599999999999999" />
<line x1="438.1" y1="284.4" x2="438.1" y2="292.7" stroke="#666" stroke-width="0.9" />
<path d="M444.5,278.1 A6.4,6.4 0 0 0 438.1,284.4" stroke="#666" stroke-width="0.8" fill="none" />
<g transform="translate(444.5 284.4) rotate(45)"><rect x="-4" y="-4" width="8" height="8" rx="2" fill="#fff" stroke="#333" stroke-width="1.0"/><rect x="-2.7" y="-2.7" width="5.4" height="5.4" rx="1.2" fill="none" stroke="#888" stroke-width="0.5"/><path d="M-5,-3.2 L-5,3.2 M5,-3.2 L5,3.2" stroke="#444" stroke-width="0.8"/></g>
<line x1="439" y1="271.7" x2="431.8" y2="276.2" stroke="#333" stroke-width="1.6" />
<rect x="426" y="292.7" width="27.6" height="8.2" fill="#fff" stroke="#666" stroke-width="0.9" />
<line x1="428.5" y1="300.4" x2="453.6" y2="294" stroke="#888" stroke-width="0.6" />
<line x1="453.6" y1="364.6" x2="426" y2="364.6" stroke="#8e8e8e" stroke-width="2.4" />
<line x1="426" y1="364.6" x2="426" y2="337.3" stroke="#8e8e8e" stroke-width="3.0" />
<line x1="453.6" y1="364.6" x2="453.6" y2="353.1" stroke="#666" stroke-width="0.9" />
<line x1="453.6" y1="353.1" x2="444.5" y2="353.1" stroke="#666" stroke-width="0.9" />
<rect x="445.3" y="353.6" width="7.5" height="10" fill="none" stroke="#777" stroke-width="0.7" />
<line x1="452.8" y1="363.6" x2="445.3" y2="353.6" stroke="#777" stroke-width="0.5599999999999999" />
<line x1="452.8" y1="353.6" x2="445.3" y2="363.6" stroke="#777" stroke-width="0.5599999999999999" />
<line x1="438.1" y1="346.8" x2="438.1" y2="337.3" stroke="#666" stroke-width="0.9" />
<path d="M444.5,353.1 A6.4,6.4 0 0 1 438.1,346.8" stroke="#666" stroke-width="0.8" fill="none" />
<g transform="translate(444.5 346.8) rotate(45)"><rect x="-4" y="-4" width="8" height="8" rx="2" fill="#fff" stroke="#333" stroke-width="1.0"/><rect x="-2.7" y="-2.7" width="5.4" height="5.4" rx="1.2" fill="none" stroke="#888" stroke-width="0.5"/><path d="M-5,-3.2 L-5,3.2 M5,-3.2 L5,3.2" stroke="#444" stroke-width="0.8"/></g>
<line x1="439" y1="359.5" x2="431.8" y2="355" stroke="#333" stroke-width="1.6" />
<line x1="438.1" y1="337.3" x2="426" y2="337.3" stroke="#666" stroke-width="0.9" />
<line x1="453.6" y1="364.6" x2="426" y2="364.6" stroke="#8e8e8e" stroke-width="2.4" />
<line x1="426" y1="364.6" x2="426" y2="390.7" stroke="#8e8e8e" stroke-width="3.0" />
<line x1="453.6" y1="364.6" x2="453.6" y2="376.1" stroke="#666" stroke-width="0.9" />
<line x1="453.6" y1="376.1" x2="444.5" y2="376.1" stroke="#666" stroke-width="0.9" />
<rect x="445.3" y="365.6" width="7.5" height="10" fill="none" stroke="#777" stroke-width="0.7" />
<line x1="452.8" y1="365.6" x2="445.3" y2="375.6" stroke="#777" stroke-width="0.5599999999999999" />
<line x1="452.8" y1="375.6" x2="445.3" y2="365.6" stroke="#777" stroke-width="0.5599999999999999" />
<line x1="438.1" y1="382.4" x2="438.1" y2="390.7" stroke="#666" stroke-width="0.9" />
<path d="M444.5,376.1 A6.4,6.4 0 0 0 438.1,382.4" stroke="#666" stroke-width="0.8" fill="none" />
<g transform="translate(444.5 382.4) rotate(45)"><rect x="-4" y="-4" width="8" height="8" rx="2" fill="#fff" stroke="#333" stroke-width="1.0"/><rect x="-2.7" y="-2.7" width="5.4" height="5.4" rx="1.2" fill="none" stroke="#888" stroke-width="0.5"/><path d="M-5,-3.2 L-5,3.2 M5,-3.2 L5,3.2" stroke="#444" stroke-width="0.8"/></g>
<line x1="439" y1="369.7" x2="431.8" y2="374.2" stroke="#333" stroke-width="1.6" />
<rect x="426" y="390.7" width="27.6" height="8.2" fill="#fff" stroke="#666" stroke-width="0.9" />
<line x1="428.5" y1="398.4" x2="453.6" y2="392" stroke="#888" stroke-width="0.6" />
<line x1="773.4" y1="266.6" x2="801" y2="266.6" stroke="#8e8e8e" stroke-width="2.4" />
<line x1="801" y1="266.6" x2="801" y2="240.5" stroke="#8e8e8e" stroke-width="3.0" />
<line x1="773.4" y1="266.6" x2="773.4" y2="255.1" stroke="#666" stroke-width="0.9" />
<line x1="773.4" y1="255.1" x2="782.5" y2="255.1" stroke="#666" stroke-width="0.9" />
<rect x="774.2" y="255.6" width="7.5" height="10" fill="none" stroke="#777" stroke-width="0.7" />
<line x1="774.2" y1="265.6" x2="781.7" y2="255.6" stroke="#777" stroke-width="0.5599999999999999" />
<line x1="774.2" y1="255.6" x2="781.7" y2="265.6" stroke="#777" stroke-width="0.5599999999999999" />
<line x1="788.9" y1="248.8" x2="788.9" y2="240.5" stroke="#666" stroke-width="0.9" />
<path d="M782.5,255.1 A6.4,6.4 0 0 0 788.9,248.8" stroke="#666" stroke-width="0.8" fill="none" />
<g transform="translate(782.5 248.8) rotate(45)"><rect x="-4" y="-4" width="8" height="8" rx="2" fill="#fff" stroke="#333" stroke-width="1.0"/><rect x="-2.7" y="-2.7" width="5.4" height="5.4" rx="1.2" fill="none" stroke="#888" stroke-width="0.5"/><path d="M-5,-3.2 L-5,3.2 M5,-3.2 L5,3.2" stroke="#444" stroke-width="0.8"/></g>
<line x1="788" y1="261.5" x2="795.2" y2="257" stroke="#333" stroke-width="1.6" />
<rect x="773.4" y="232.3" width="27.6" height="8.2" fill="#fff" stroke="#666" stroke-width="0.9" />
<line x1="775.9" y1="240" x2="801" y2="233.6" stroke="#888" stroke-width="0.6" />
<line x1="773.4" y1="266.6" x2="801" y2="266.6" stroke="#8e8e8e" stroke-width="2.4" />
<line x1="801" y1="266.6" x2="801" y2="292.7" stroke="#8e8e8e" stroke-width="3.0" />
<line x1="773.4" y1="266.6" x2="773.4" y2="278.1" stroke="#666" stroke-width="0.9" />
<line x1="773.4" y1="278.1" x2="782.5" y2="278.1" stroke="#666" stroke-width="0.9" />
<rect x="774.2" y="267.6" width="7.5" height="10" fill="none" stroke="#777" stroke-width="0.7" />
<line x1="774.2" y1="267.6" x2="781.7" y2="277.6" stroke="#777" stroke-width="0.5599999999999999" />
<line x1="774.2" y1="277.6" x2="781.7" y2="267.6" stroke="#777" stroke-width="0.5599999999999999" />
<line x1="788.9" y1="284.4" x2="788.9" y2="292.7" stroke="#666" stroke-width="0.9" />
<path d="M782.5,278.1 A6.4,6.4 0 0 1 788.9,284.4" stroke="#666" stroke-width="0.8" fill="none" />
<g transform="translate(782.5 284.4) rotate(45)"><rect x="-4" y="-4" width="8" height="8" rx="2" fill="#fff" stroke="#333" stroke-width="1.0"/><rect x="-2.7" y="-2.7" width="5.4" height="5.4" rx="1.2" fill="none" stroke="#888" stroke-width="0.5"/><path d="M-5,-3.2 L-5,3.2 M5,-3.2 L5,3.2" stroke="#444" stroke-width="0.8"/></g>
<line x1="788" y1="271.7" x2="795.2" y2="276.2" stroke="#333" stroke-width="1.6" />
<rect x="773.4" y="292.7" width="27.6" height="8.2" fill="#fff" stroke="#666" stroke-width="0.9" />
<line x1="775.9" y1="300.4" x2="801" y2="294" stroke="#888" stroke-width="0.6" />
<line x1="773.4" y1="364.6" x2="801" y2="364.6" stroke="#8e8e8e" stroke-width="2.4" />
<line x1="801" y1="364.6" x2="801" y2="337.3" stroke="#8e8e8e" stroke-width="3.0" />
<line x1="773.4" y1="364.6" x2="773.4" y2="353.1" stroke="#666" stroke-width="0.9" />
<line x1="773.4" y1="353.1" x2="782.5" y2="353.1" stroke="#666" stroke-width="0.9" />
<rect x="774.2" y="353.6" width="7.5" height="10" fill="none" stroke="#777" stroke-width="0.7" />
<line x1="774.2" y1="363.6" x2="781.7" y2="353.6" stroke="#777" stroke-width="0.5599999999999999" />
<line x1="774.2" y1="353.6" x2="781.7" y2="363.6" stroke="#777" stroke-width="0.5599999999999999" />
<line x1="788.9" y1="346.8" x2="788.9" y2="337.3" stroke="#666" stroke-width="0.9" />
<path d="M782.5,353.1 A6.4,6.4 0 0 0 788.9,346.8" stroke="#666" stroke-width="0.8" fill="none" />
<g transform="translate(782.5 346.8) rotate(45)"><rect x="-4" y="-4" width="8" height="8" rx="2" fill="#fff" stroke="#333" stroke-width="1.0"/><rect x="-2.7" y="-2.7" width="5.4" height="5.4" rx="1.2" fill="none" stroke="#888" stroke-width="0.5"/><path d="M-5,-3.2 L-5,3.2 M5,-3.2 L5,3.2" stroke="#444" stroke-width="0.8"/></g>
<line x1="788" y1="359.5" x2="795.2" y2="355" stroke="#333" stroke-width="1.6" />
<line x1="788.9" y1="337.3" x2="801" y2="337.3" stroke="#666" stroke-width="0.9" />
<line x1="773.4" y1="364.6" x2="801" y2="364.6" stroke="#8e8e8e" stroke-width="2.4" />
<line x1="801" y1="364.6" x2="801" y2="390.7" stroke="#8e8e8e" stroke-width="3.0" />
<line x1="773.4" y1="364.6" x2="773.4" y2="376.1" stroke="#666" stroke-width="0.9" />
<line x1="773.4" y1="376.1" x2="782.5" y2="376.1" stroke="#666" stroke-width="0.9" />
<rect x="774.2" y="365.6" width="7.5" height="10" fill="none" stroke="#777" stroke-width="0.7" />
<line x1="774.2" y1="365.6" x2="781.7" y2="375.6" stroke="#777" stroke-width="0.5599999999999999" />
<line x1="774.2" y1="375.6" x2="781.7" y2="365.6" stroke="#777" stroke-width="0.5599999999999999" />
<line x1="788.9" y1="382.4" x2="788.9" y2="390.7" stroke="#666" stroke-width="0.9" />
<path d="M782.5,376.1 A6.4,6.4 0 0 1 788.9,382.4" stroke="#666" stroke-width="0.8" fill="none" />
<g transform="translate(782.5 382.4) rotate(45)"><rect x="-4" y="-4" width="8" height="8" rx="2" fill="#fff" stroke="#333" stroke-width="1.0"/><rect x="-2.7" y="-2.7" width="5.4" height="5.4" rx="1.2" fill="none" stroke="#888" stroke-width="0.5"/><path d="M-5,-3.2 L-5,3.2 M5,-3.2 L5,3.2" stroke="#444" stroke-width="0.8"/></g>
<line x1="788" y1="369.7" x2="795.2" y2="374.2" stroke="#333" stroke-width="1.6" />
<rect x="773.4" y="390.7" width="27.6" height="8.2" fill="#fff" stroke="#666" stroke-width="0.9" />
<line x1="775.9" y1="398.4" x2="801" y2="392" stroke="#888" stroke-width="0.6" />
<rect x="800.3" y="186" width="3.7" height="48" fill="#d6d6d6" stroke="#444" stroke-width="0.8" />
<rect x="799.8" y="168.4" width="4.4" height="3.4" fill="#fff" stroke="#444" stroke-width="0.8" />
<line x1="804" y1="171.6" x2="819.7" y2="171.6" stroke="#333" stroke-width="1.3" />
<path d="M819.7,172 A16,14.5 0 0 1 804.2,186" stroke="#555" stroke-width="0.7" fill="none" />
<rect x="837.3" y="183.3" width="14.3" height="35.9" fill="none" stroke="#666" stroke-width="0.9" />
<path d="M851.6,216.2 L869.8,216.2 M844.9,219.2 L844.9,226.5" stroke="#666" stroke-width="0.8" fill="none" />
<rect x="824" y="187.8" width="10.8" height="11" rx="2.5" fill="none" stroke="#666" stroke-width="0.8"/>
<rect x="855" y="194" width="10.8" height="11.5" rx="2.5" fill="none" stroke="#666" stroke-width="0.8"/>
<rect x="826" y="205" width="9.5" height="10.5" rx="2.5" fill="none" stroke="#999" stroke-width="0.7"/>
<rect x="804" y="226.5" width="21.93" height="7.5" fill="none" stroke="#666" stroke-width="0.7" />
<line x1="804" y1="226.5" x2="825.93" y2="234" stroke="#666" stroke-width="0.5599999999999999" />
<line x1="804" y1="234" x2="825.93" y2="226.5" stroke="#666" stroke-width="0.5599999999999999" />
<rect x="825.93" y="226.5" width="21.93" height="7.5" fill="none" stroke="#666" stroke-width="0.7" />
<line x1="825.93" y1="226.5" x2="847.86" y2="234" stroke="#666" stroke-width="0.5599999999999999" />
<line x1="825.93" y1="234" x2="847.86" y2="226.5" stroke="#666" stroke-width="0.5599999999999999" />
<rect x="847.86" y="226.5" width="21.93" height="7.5" fill="none" stroke="#666" stroke-width="0.7" />
<line x1="847.86" y1="226.5" x2="869.79" y2="234" stroke="#666" stroke-width="0.5599999999999999" />
<line x1="847.86" y1="234" x2="869.79" y2="226.5" stroke="#666" stroke-width="0.5599999999999999" />
<rect x="804" y="234" width="65.8" height="3.6" fill="#fff" stroke="#1c1c1c" stroke-width="0.8" />
<text x="831.4" y="207.8" font-family="Liberation Serif" font-size="7.9" text-anchor="middle" fill="#333" >工程部经理</text>
<text x="831.4" y="216" font-family="Liberation Serif" font-size="6.6" text-anchor="middle" fill="#333" >(11.2m²)</text>
<rect x="821.6" y="248.3" width="16.07" height="10" fill="none" stroke="#555" stroke-width="0.7" />
<line x1="821.6" y1="248.3" x2="837.67" y2="258.3" stroke="#555" stroke-width="0.5599999999999999" />
<line x1="821.6" y1="258.3" x2="837.67" y2="248.3" stroke="#555" stroke-width="0.5599999999999999" />
<rect x="821.6" y="258.3" width="16.07" height="10" fill="none" stroke="#555" stroke-width="0.7" />
<line x1="821.6" y1="258.3" x2="837.67" y2="268.3" stroke="#555" stroke-width="0.5599999999999999" />
<line x1="821.6" y1="268.3" x2="837.67" y2="258.3" stroke="#555" stroke-width="0.5599999999999999" />
<rect x="821.6" y="268.3" width="16.07" height="10" fill="none" stroke="#555" stroke-width="0.7" />
<line x1="821.6" y1="268.3" x2="837.67" y2="278.3" stroke="#555" stroke-width="0.5599999999999999" />
<line x1="821.6" y1="278.3" x2="837.67" y2="268.3" stroke="#555" stroke-width="0.5599999999999999" />
<rect x="821.6" y="278.3" width="16.07" height="10" fill="none" stroke="#555" stroke-width="0.7" />
<line x1="821.6" y1="278.3" x2="837.67" y2="288.3" stroke="#555" stroke-width="0.5599999999999999" />
<line x1="821.6" y1="288.3" x2="837.67" y2="278.3" stroke="#555" stroke-width="0.5599999999999999" />
<rect x="821.6" y="288.3" width="16.07" height="10" fill="none" stroke="#555" stroke-width="0.7" />
<line x1="821.6" y1="288.3" x2="837.67" y2="298.3" stroke="#555" stroke-width="0.5599999999999999" />
<line x1="821.6" y1="298.3" x2="837.67" y2="288.3" stroke="#555" stroke-width="0.5599999999999999" />
<rect x="821.6" y="298.3" width="16.07" height="10" fill="none" stroke="#555" stroke-width="0.7" />
<line x1="821.6" y1="298.3" x2="837.67" y2="308.3" stroke="#555" stroke-width="0.5599999999999999" />
<line x1="821.6" y1="308.3" x2="837.67" y2="298.3" stroke="#555" stroke-width="0.5599999999999999" />
<rect x="837.67" y="248.3" width="16.07" height="10" fill="none" stroke="#555" stroke-width="0.7" />
<line x1="837.67" y1="248.3" x2="853.74" y2="258.3" stroke="#555" stroke-width="0.5599999999999999" />
<line x1="837.67" y1="258.3" x2="853.74" y2="248.3" stroke="#555" stroke-width="0.5599999999999999" />
<rect x="837.67" y="258.3" width="16.07" height="10" fill="none" stroke="#555" stroke-width="0.7" />
<line x1="837.67" y1="258.3" x2="853.74" y2="268.3" stroke="#555" stroke-width="0.5599999999999999" />
<line x1="837.67" y1="268.3" x2="853.74" y2="258.3" stroke="#555" stroke-width="0.5599999999999999" />
<rect x="837.67" y="268.3" width="16.07" height="10" fill="none" stroke="#555" stroke-width="0.7" />
<line x1="837.67" y1="268.3" x2="853.74" y2="278.3" stroke="#555" stroke-width="0.5599999999999999" />
<line x1="837.67" y1="278.3" x2="853.74" y2="268.3" stroke="#555" stroke-width="0.5599999999999999" />
<rect x="837.67" y="278.3" width="16.07" height="10" fill="none" stroke="#555" stroke-width="0.7" />
<line x1="837.67" y1="278.3" x2="853.74" y2="288.3" stroke="#555" stroke-width="0.5599999999999999" />
<line x1="837.67" y1="288.3" x2="853.74" y2="278.3" stroke="#555" stroke-width="0.5599999999999999" />
<rect x="837.67" y="288.3" width="16.07" height="10" fill="none" stroke="#555" stroke-width="0.7" />
<line x1="837.67" y1="288.3" x2="853.74" y2="298.3" stroke="#555" stroke-width="0.5599999999999999" />
<line x1="837.67" y1="298.3" x2="853.74" y2="288.3" stroke="#555" stroke-width="0.5599999999999999" />
<rect x="837.67" y="298.3" width="16.07" height="10" fill="none" stroke="#555" stroke-width="0.7" />
<line x1="837.67" y1="298.3" x2="853.74" y2="308.3" stroke="#555" stroke-width="0.5599999999999999" />
<line x1="837.67" y1="308.3" x2="853.74" y2="298.3" stroke="#555" stroke-width="0.5599999999999999" />
<rect x="853.74" y="248.3" width="16.07" height="10" fill="none" stroke="#555" stroke-width="0.7" />
<line x1="853.74" y1="248.3" x2="869.81" y2="258.3" stroke="#555" stroke-width="0.5599999999999999" />
<line x1="853.74" y1="258.3" x2="869.81" y2="248.3" stroke="#555" stroke-width="0.5599999999999999" />
<rect x="853.74" y="258.3" width="16.07" height="10" fill="none" stroke="#555" stroke-width="0.7" />
<line x1="853.74" y1="258.3" x2="869.81" y2="268.3" stroke="#555" stroke-width="0.5599999999999999" />
<line x1="853.74" y1="268.3" x2="869.81" y2="258.3" stroke="#555" stroke-width="0.5599999999999999" />
<rect x="853.74" y="268.3" width="16.07" height="10" fill="none" stroke="#555" stroke-width="0.7" />
<line x1="853.74" y1="268.3" x2="869.81" y2="278.3" stroke="#555" stroke-width="0.5599999999999999" />
<line x1="853.74" y1="278.3" x2="869.81" y2="268.3" stroke="#555" stroke-width="0.5599999999999999" />
<rect x="853.74" y="278.3" width="16.07" height="10" fill="none" stroke="#555" stroke-width="0.7" />
<line x1="853.74" y1="278.3" x2="869.81" y2="288.3" stroke="#555" stroke-width="0.5599999999999999" />
<line x1="853.74" y1="288.3" x2="869.81" y2="278.3" stroke="#555" stroke-width="0.5599999999999999" />
<rect x="853.74" y="288.3" width="16.07" height="10" fill="none" stroke="#555" stroke-width="0.7" />
<line x1="853.74" y1="288.3" x2="869.81" y2="298.3" stroke="#555" stroke-width="0.5599999999999999" />
<line x1="853.74" y1="298.3" x2="869.81" y2="288.3" stroke="#555" stroke-width="0.5599999999999999" />
<rect x="853.74" y="298.3" width="16.07" height="10" fill="none" stroke="#555" stroke-width="0.7" />
<line x1="853.74" y1="298.3" x2="869.81" y2="308.3" stroke="#555" stroke-width="0.5599999999999999" />
<line x1="853.74" y1="308.3" x2="869.81" y2="298.3" stroke="#555" stroke-width="0.5599999999999999" />
<rect x="837.7" y="346.2" width="16.07" height="9.93" fill="none" stroke="#555" stroke-width="0.7" />
<line x1="837.7" y1="346.2" x2="853.77" y2="356.13" stroke="#555" stroke-width="0.5599999999999999" />
<line x1="837.7" y1="356.13" x2="853.77" y2="346.2" stroke="#555" stroke-width="0.5599999999999999" />
<rect x="837.7" y="356.13" width="16.07" height="9.93" fill="none" stroke="#555" stroke-width="0.7" />
<line x1="837.7" y1="356.13" x2="853.77" y2="366.06" stroke="#555" stroke-width="0.5599999999999999" />
<line x1="837.7" y1="366.06" x2="853.77" y2="356.13" stroke="#555" stroke-width="0.5599999999999999" />
<rect x="837.7" y="366.06" width="16.07" height="9.93" fill="none" stroke="#555" stroke-width="0.7" />
<line x1="837.7" y1="366.06" x2="853.77" y2="375.99" stroke="#555" stroke-width="0.5599999999999999" />
<line x1="837.7" y1="375.99" x2="853.77" y2="366.06" stroke="#555" stroke-width="0.5599999999999999" />
<rect x="837.7" y="375.99" width="16.07" height="9.93" fill="none" stroke="#555" stroke-width="0.7" />
<line x1="837.7" y1="375.99" x2="853.77" y2="385.92" stroke="#555" stroke-width="0.5599999999999999" />
<line x1="837.7" y1="385.92" x2="853.77" y2="375.99" stroke="#555" stroke-width="0.5599999999999999" />
<rect x="837.7" y="385.92" width="16.07" height="9.93" fill="none" stroke="#555" stroke-width="0.7" />
<line x1="837.7" y1="385.92" x2="853.77" y2="395.85" stroke="#555" stroke-width="0.5599999999999999" />
<line x1="837.7" y1="395.85" x2="853.77" y2="385.92" stroke="#555" stroke-width="0.5599999999999999" />
<rect x="837.7" y="395.85" width="16.07" height="9.93" fill="none" stroke="#555" stroke-width="0.7" />
<line x1="837.7" y1="395.85" x2="853.77" y2="405.78" stroke="#555" stroke-width="0.5599999999999999" />
<line x1="837.7" y1="405.78" x2="853.77" y2="395.85" stroke="#555" stroke-width="0.5599999999999999" />
<rect x="837.7" y="405.78" width="16.07" height="9.93" fill="none" stroke="#555" stroke-width="0.7" />
<line x1="837.7" y1="405.78" x2="853.77" y2="415.71" stroke="#555" stroke-width="0.5599999999999999" />
<line x1="837.7" y1="415.71" x2="853.77" y2="405.78" stroke="#555" stroke-width="0.5599999999999999" />
<rect x="853.77" y="346.2" width="16.07" height="9.93" fill="none" stroke="#555" stroke-width="0.7" />
<line x1="853.77" y1="346.2" x2="869.84" y2="356.13" stroke="#555" stroke-width="0.5599999999999999" />
<line x1="853.77" y1="356.13" x2="869.84" y2="346.2" stroke="#555" stroke-width="0.5599999999999999" />
<rect x="853.77" y="356.13" width="16.07" height="9.93" fill="none" stroke="#555" stroke-width="0.7" />
<line x1="853.77" y1="356.13" x2="869.84" y2="366.06" stroke="#555" stroke-width="0.5599999999999999" />
<line x1="853.77" y1="366.06" x2="869.84" y2="356.13" stroke="#555" stroke-width="0.5599999999999999" />
<rect x="853.77" y="366.06" width="16.07" height="9.93" fill="none" stroke="#555" stroke-width="0.7" />
<line x1="853.77" y1="366.06" x2="869.84" y2="375.99" stroke="#555" stroke-width="0.5599999999999999" />
<line x1="853.77" y1="375.99" x2="869.84" y2="366.06" stroke="#555" stroke-width="0.5599999999999999" />
<rect x="853.77" y="375.99" width="16.07" height="9.93" fill="none" stroke="#555" stroke-width="0.7" />
<line x1="853.77" y1="375.99" x2="869.84" y2="385.92" stroke="#555" stroke-width="0.5599999999999999" />
<line x1="853.77" y1="385.92" x2="869.84" y2="375.99" stroke="#555" stroke-width="0.5599999999999999" />
<rect x="853.77" y="385.92" width="16.07" height="9.93" fill="none" stroke="#555" stroke-width="0.7" />
<line x1="853.77" y1="385.92" x2="869.84" y2="395.85" stroke="#555" stroke-width="0.5599999999999999" />
<line x1="853.77" y1="395.85" x2="869.84" y2="385.92" stroke="#555" stroke-width="0.5599999999999999" />
<rect x="853.77" y="395.85" width="16.07" height="9.93" fill="none" stroke="#555" stroke-width="0.7" />
<line x1="853.77" y1="395.85" x2="869.84" y2="405.78" stroke="#555" stroke-width="0.5599999999999999" />
<line x1="853.77" y1="405.78" x2="869.84" y2="395.85" stroke="#555" stroke-width="0.5599999999999999" />
<rect x="853.77" y="405.78" width="16.07" height="9.93" fill="none" stroke="#555" stroke-width="0.7" />
<line x1="853.77" y1="405.78" x2="869.84" y2="415.71" stroke="#555" stroke-width="0.5599999999999999" />
<line x1="853.77" y1="415.71" x2="869.84" y2="405.78" stroke="#555" stroke-width="0.5599999999999999" />
<line x1="824.5" y1="309" x2="824.5" y2="346" stroke="#bbb" stroke-width="0.9" stroke-dasharray="2 1.5"/>
<line x1="833.5" y1="309" x2="833.5" y2="346" stroke="#bbb" stroke-width="0.9" stroke-dasharray="2 1.5"/>
<line x1="840.5" y1="309" x2="840.5" y2="346" stroke="#bbb" stroke-width="0.9" stroke-dasharray="2 1.5"/>
<line x1="851" y1="309" x2="851" y2="346" stroke="#bbb" stroke-width="0.9" stroke-dasharray="2 1.5"/>
<line x1="857" y1="309" x2="857" y2="346" stroke="#bbb" stroke-width="0.9" stroke-dasharray="2 1.5"/>
<line x1="867" y1="309" x2="867" y2="346" stroke="#bbb" stroke-width="0.9" stroke-dasharray="2 1.5"/>
<line x1="840.5" y1="416" x2="840.5" y2="428" stroke="#bbb" stroke-width="0.9" stroke-dasharray="2 1.5"/>
<line x1="851" y1="416" x2="851" y2="428" stroke="#bbb" stroke-width="0.9" stroke-dasharray="2 1.5"/>
<line x1="857" y1="416" x2="857" y2="428" stroke="#bbb" stroke-width="0.9" stroke-dasharray="2 1.5"/>
<line x1="867" y1="416" x2="867" y2="428" stroke="#bbb" stroke-width="0.9" stroke-dasharray="2 1.5"/>
<line x1="808" y1="238.5" x2="808" y2="248" stroke="#ccc" stroke-width="0.9" stroke-dasharray="2 1.5"/>
<line x1="814" y1="238.5" x2="814" y2="248" stroke="#ccc" stroke-width="0.9" stroke-dasharray="2 1.5"/>
<line x1="821" y1="238.5" x2="821" y2="248" stroke="#ccc" stroke-width="0.9" stroke-dasharray="2 1.5"/>
<line x1="826" y1="238.5" x2="826" y2="248" stroke="#ccc" stroke-width="0.9" stroke-dasharray="2 1.5"/>
<line x1="832" y1="238.5" x2="832" y2="248" stroke="#ccc" stroke-width="0.9" stroke-dasharray="2 1.5"/>
<line x1="844" y1="238.5" x2="844" y2="248" stroke="#ccc" stroke-width="0.9" stroke-dasharray="2 1.5"/>
<line x1="853" y1="238.5" x2="853" y2="248" stroke="#ccc" stroke-width="0.9" stroke-dasharray="2 1.5"/>
<line x1="860" y1="238.5" x2="860" y2="248" stroke="#ccc" stroke-width="0.9" stroke-dasharray="2 1.5"/>
<line x1="866" y1="238.5" x2="866" y2="248" stroke="#ccc" stroke-width="0.9" stroke-dasharray="2 1.5"/>
<rect x="800.3" y="237.6" width="3.7" height="171.9" fill="#d6d6d6" stroke="#555" stroke-width="0.7" />
<line x1="804" y1="425" x2="820.5" y2="425" stroke="#333" stroke-width="1.3" />
<path d="M804.2,409.5 A16,15.5 0 0 1 820.3,425" stroke="#555" stroke-width="0.7" fill="none" />
<text x="824.7" y="379.6" font-family="Liberation Serif" font-size="7.9" text-anchor="middle" fill="#333" >资料室</text>
<text x="824.7" y="388.8" font-family="Liberation Serif" font-size="6.6" text-anchor="middle" fill="#333" >(38.2m²)</text>
<rect x="799" y="425.5" width="5.5" height="6.5" fill="#fff" stroke="#444" stroke-width="0.8" />
<rect x="807.9" y="428" width="61.9" height="4.8" fill="#fff" stroke="#1c1c1c" stroke-width="1.1" />
<rect x="808.7" y="455.7" width="3.7" height="33.8" fill="#fff" stroke="#1c1c1c" stroke-width="1.1" />
<rect x="862.4" y="432.8" width="7.4" height="51.7" fill="#fff" stroke="#1c1c1c" stroke-width="0.6" />
<line x1="866" y1="432.8" x2="866" y2="484.5" stroke="#999" stroke-width="0.6" />
<line x1="862.5" y1="498.7" x2="862.5" y2="539.4" stroke="#999" stroke-width="0.6" />
<line x1="866" y1="498.7" x2="866" y2="539.4" stroke="#999" stroke-width="0.6" />
<line x1="808.4" y1="428" x2="808.4" y2="434.2" stroke="#1c1c1c" stroke-width="1.1" />
<line x1="808.4" y1="434.2" x2="820.6" y2="434.2" stroke="#222" stroke-width="1.2" />
<line x1="808.4" y1="455.6" x2="820.6" y2="455.6" stroke="#222" stroke-width="1.2" />
<path d="M820.6,434.4 A12,10.5 0 0 1 810.4,444.6 M820.6,455.4 A12,10.5 0 0 0 810.4,444.6" stroke="#444" stroke-width="0.8" fill="none" />
<line x1="812.4" y1="461.8" x2="862.4" y2="461.8" stroke="#777" stroke-width="0.7" />
<line x1="812.4" y1="466.7" x2="862.4" y2="466.7" stroke="#777" stroke-width="0.7" />
<line x1="812.4" y1="471.6" x2="862.4" y2="471.6" stroke="#777" stroke-width="0.7" />
<line x1="812.4" y1="476.5" x2="862.4" y2="476.5" stroke="#777" stroke-width="0.7" />
<line x1="812.4" y1="481.4" x2="862.4" y2="481.4" stroke="#777" stroke-width="0.7" />
<line x1="812.4" y1="486.3" x2="862.4" y2="486.3" stroke="#777" stroke-width="0.7" />
<line x1="812.4" y1="491.2" x2="862.4" y2="491.2" stroke="#777" stroke-width="0.7" />
<line x1="812.4" y1="496.1" x2="862.4" y2="496.1" stroke="#777" stroke-width="0.7" />
<line x1="812.4" y1="501" x2="862.4" y2="501" stroke="#777" stroke-width="0.7" />
<line x1="812.4" y1="505.9" x2="862.4" y2="505.9" stroke="#777" stroke-width="0.7" />
<line x1="812.4" y1="510.8" x2="862.4" y2="510.8" stroke="#777" stroke-width="0.7" />
<line x1="812.4" y1="515.7" x2="862.4" y2="515.7" stroke="#777" stroke-width="0.7" />
<rect x="834.8" y="461" width="5" height="55" fill="#fff" stroke="#999" stroke-width="0.8" />
<rect x="823.9" y="516" width="26.9" height="12.2" fill="none" stroke="#999" stroke-width="0.7" />
<line x1="823.9" y1="461" x2="823.9" y2="516" stroke="#999" stroke-width="0.6" />
<line x1="850.8" y1="461" x2="850.8" y2="516" stroke="#999" stroke-width="0.6" />
<line x1="813" y1="491" x2="835" y2="476" stroke="#666" stroke-width="0.7" />
<line x1="813" y1="494" x2="835" y2="479" stroke="#666" stroke-width="0.7" />
<line x1="823.9" y1="477" x2="823.9" y2="491" stroke="#333" stroke-width="0.9" />
<text x="824.7" y="456.5" font-family="Liberation Serif" font-size="8" text-anchor="middle" fill="#333" >上</text>
<text x="850.8" y="456.5" font-family="Liberation Serif" font-size="8" text-anchor="middle" fill="#333" >下</text>
<rect x="808.5" y="498.7" width="4.2" height="40.7" fill="#fff" stroke="#1c1c1c" stroke-width="1.0" />
<rect x="763.1" y="498.7" width="4.2" height="40.7" fill="#fff" stroke="#1c1c1c" stroke-width="1.0" />
<rect x="768.6" y="499.7" width="36.4" height="32.3" fill="none" stroke="#777" stroke-width="0.7" />
<line x1="768.6" y1="499.7" x2="805" y2="532" stroke="#888" stroke-width="0.6" />
<line x1="768.6" y1="532" x2="805" y2="499.7" stroke="#888" stroke-width="0.6" />
<rect x="772.8" y="533.4" width="24.7" height="5.5" fill="none" stroke="#888" stroke-width="0.7" />
<rect x="796.2" y="494.9" width="6.8" height="3.8" fill="#fff" stroke="#1c1c1c" stroke-width="0.9" />
<rect x="774.1" y="494.2" width="22.1" height="3.4" fill="#eee" stroke="#999" stroke-width="0.5" />
<text x="786.9" y="520.5" font-family="Liberation Serif" font-size="7.9" text-anchor="middle" fill="#333" >客梯</text>
<rect x="722.7" y="498.7" width="3.7" height="40.7" fill="#fff" stroke="#1c1c1c" stroke-width="1.0" />
<line x1="726.4" y1="498.7" x2="763.1" y2="498.7" stroke="#1c1c1c" stroke-width="1.0" />
<rect x="750" y="494.9" width="24.1" height="3.8" fill="#fff" stroke="#1c1c1c" stroke-width="0.9" />
<text x="743.7" y="520.5" font-family="Liberation Serif" font-size="7.9" text-anchor="middle" fill="#333" >管井</text>
<line x1="737.8" y1="485" x2="737.8" y2="498" stroke="#333" stroke-width="1.2" />
<path d="M737.8,485.3 A13,13 0 0 1 750.3,498" stroke="#555" stroke-width="0.7" fill="none" />
<rect x="720.2" y="464.2" width="6.2" height="21.8" fill="#fff" stroke="#333" stroke-width="0.9" />
<line x1="720.2" y1="466.5" x2="720.2" y2="481.5" stroke="#333" stroke-width="1.3" />
<path d="M704.2,467 A16,15.5 0 0 0 720.2,482.3" stroke="#555" stroke-width="0.7" fill="none" />
<rect x="299.3" y="370.5" width="21" height="4.1" fill="#fff" stroke="#1c1c1c" stroke-width="0.9" />
<rect x="359.8" y="370.5" width="25.7" height="4.1" fill="#fff" stroke="#1c1c1c" stroke-width="0.9" />
<rect x="380.8" y="374.6" width="4.7" height="89.7" fill="#fff" stroke="#1c1c1c" stroke-width="1.1" />
<path d="M316.7,376.5 L316.7,410.4 L363.3,410.4 L363.3,376.5 M316.7,391.5 L320.8,391.5 L320.8,406.2 M363.3,391.5 L360,391.5 L360,406.2" stroke="#444" stroke-width="0.9" fill="none" />
<line x1="302.5" y1="376.7" x2="316.7" y2="376.7" stroke="#666" stroke-width="1.3" />
<path d="M302.5,377 A14.5,14.5 0 0 0 316.7,391.5" stroke="#777" stroke-width="0.6" fill="none" />
<line x1="363.3" y1="376.7" x2="378.5" y2="376.7" stroke="#666" stroke-width="1.3" />
<path d="M378.5,377 A15,14.5 0 0 1 363.3,391.5" stroke="#777" stroke-width="0.6" fill="none" />
<rect x="320.8" y="395.3" width="39.2" height="10.9" fill="none" stroke="#666" stroke-width="0.8" />
<ellipse cx="330.5" cy="400.6" rx="5.6" ry="3.3" fill="none" stroke="#444" stroke-width="0.9"/>
<line x1="330.5" y1="403.8" x2="330.5" y2="406" stroke="#444" stroke-width="0.9" />
<ellipse cx="350.5" cy="400.6" rx="5.6" ry="3.3" fill="none" stroke="#444" stroke-width="0.9"/>
<line x1="350.5" y1="403.8" x2="350.5" y2="406" stroke="#444" stroke-width="0.9" />
<rect x="347.6" y="411.5" width="2.6" height="74.5" fill="#fff" stroke="#555" stroke-width="0.7" />
<ellipse cx="339.7" cy="418.55" rx="4.6" ry="3.5" fill="none" stroke="#333" stroke-width="1.1"/>
<ellipse cx="339.7" cy="418.55" rx="2.8" ry="2.1" fill="none" stroke="#777" stroke-width="0.6"/>
<line x1="317.5" y1="412.5" x2="322" y2="422.5" stroke="#333" stroke-width="1.0" />
<path d="M352.5,415.05 L357.5,418.55 L352.5,422.05" stroke="#555" stroke-width="0.8" fill="none" />
<line x1="351" y1="424.1" x2="358.5" y2="424.1" stroke="#555" stroke-width="1.1" />
<line x1="317" y1="424.6" x2="348" y2="424.6" stroke="#555" stroke-width="1.1" />
<ellipse cx="339.7" cy="432.65" rx="4.6" ry="3.5" fill="none" stroke="#333" stroke-width="1.1"/>
<ellipse cx="339.7" cy="432.65" rx="2.8" ry="2.1" fill="none" stroke="#777" stroke-width="0.6"/>
<line x1="317.5" y1="425.6" x2="322" y2="435.6" stroke="#333" stroke-width="1.0" />
<path d="M352.5,429.15 L357.5,432.65 L352.5,436.15" stroke="#555" stroke-width="0.8" fill="none" />
<line x1="351" y1="439.2" x2="358.5" y2="439.2" stroke="#555" stroke-width="1.1" />
<line x1="317" y1="439.7" x2="348" y2="439.7" stroke="#555" stroke-width="1.1" />
<ellipse cx="339.7" cy="447.8" rx="4.6" ry="3.5" fill="none" stroke="#333" stroke-width="1.1"/>
<ellipse cx="339.7" cy="447.8" rx="2.8" ry="2.1" fill="none" stroke="#777" stroke-width="0.6"/>
<line x1="317.5" y1="440.7" x2="322" y2="450.7" stroke="#333" stroke-width="1.0" />
<path d="M352.5,444.3 L357.5,447.8 L352.5,451.3" stroke="#555" stroke-width="0.8" fill="none" />
<line x1="351" y1="454.4" x2="358.5" y2="454.4" stroke="#555" stroke-width="1.1" />
<line x1="317" y1="454.9" x2="348" y2="454.9" stroke="#555" stroke-width="1.1" />
<ellipse cx="339.7" cy="462.95" rx="4.6" ry="3.5" fill="none" stroke="#333" stroke-width="1.1"/>
<ellipse cx="339.7" cy="462.95" rx="2.8" ry="2.1" fill="none" stroke="#777" stroke-width="0.6"/>
<line x1="317.5" y1="455.9" x2="322" y2="465.9" stroke="#333" stroke-width="1.0" />
<path d="M352.5,459.45 L357.5,462.95 L352.5,466.45" stroke="#555" stroke-width="0.8" fill="none" />
<line x1="351" y1="469.5" x2="358.5" y2="469.5" stroke="#555" stroke-width="1.1" />
<line x1="317" y1="470" x2="348" y2="470" stroke="#555" stroke-width="1.1" />
<ellipse cx="339.7" cy="478.25" rx="4.6" ry="3.5" fill="none" stroke="#333" stroke-width="1.1"/>
<ellipse cx="339.7" cy="478.25" rx="2.8" ry="2.1" fill="none" stroke="#777" stroke-width="0.6"/>
<line x1="317.5" y1="471" x2="322" y2="481" stroke="#333" stroke-width="1.0" />
<path d="M352.5,474.75 L357.5,478.25 L352.5,481.75" stroke="#555" stroke-width="0.8" fill="none" />
<line x1="351" y1="485" x2="358.5" y2="485" stroke="#555" stroke-width="1.1" />
<line x1="351" y1="413.5" x2="358.5" y2="413.5" stroke="#555" stroke-width="1.1" />
<line x1="299.3" y1="485.2" x2="350.2" y2="485.2" stroke="#333" stroke-width="1.3" />
<line x1="299.3" y1="486.8" x2="350.2" y2="486.8" stroke="#555" stroke-width="0.7" />
<text x="316.1" y="434.6" font-family="Liberation Serif" font-size="7.9" text-anchor="middle" fill="#333" >女卫生间</text>
<text x="316" y="443.6" font-family="Liberation Serif" font-size="6.6" text-anchor="middle" fill="#333" >(13.2m²)</text>
<path d="M333,487 L328,499 L333,505" stroke="#444" stroke-width="0.9" fill="none" />
<text x="317.8" y="500.6" font-family="Liberation Serif" font-size="7.5" text-anchor="middle" fill="#333" >保洁间</text>
<line x1="299.3" y1="507.1" x2="332" y2="507.1" stroke="#444" stroke-width="1.1" />
<ellipse cx="306.9" cy="515.1" rx="4.6" ry="3.3" fill="none" stroke="#333" stroke-width="1.1"/>
<line x1="333" y1="508.1" x2="327" y2="519.1" stroke="#333" stroke-width="1.0" />
<line x1="299.3" y1="523.1" x2="332" y2="523.1" stroke="#444" stroke-width="1.1" />
<ellipse cx="306.9" cy="531.25" rx="4.6" ry="3.3" fill="none" stroke="#333" stroke-width="1.1"/>
<line x1="333" y1="524.1" x2="327" y2="535.1" stroke="#333" stroke-width="1.0" />
<text x="358.2" y="513.6" font-family="Liberation Serif" font-size="7.9" text-anchor="middle" fill="#333" >男卫生间</text>
<text x="358.2" y="521.8" font-family="Liberation Serif" font-size="6.6" text-anchor="middle" fill="#333" >(21.9m²)</text>
<rect x="370.8" y="531.5" width="10" height="7.9" fill="none" stroke="#777" stroke-width="0.7" />
<line x1="370.8" y1="531.5" x2="380.8" y2="539.4" stroke="#777" stroke-width="0.5599999999999999" />
<line x1="370.8" y1="539.4" x2="380.8" y2="531.5" stroke="#777" stroke-width="0.5599999999999999" />
<rect x="385.5" y="464.3" width="34.5" height="2.7" fill="#fff" stroke="#1c1c1c" stroke-width="0.9" />
<rect x="380.8" y="464.3" width="4.7" height="75.1" fill="#fff" stroke="#1c1c1c" stroke-width="1.1" />
<line x1="420" y1="465.5" x2="420" y2="467.5" stroke="#333" stroke-width="1.2" />
<path d="M420,466.8 A15,17 0 0 0 434.6,484" stroke="#555" stroke-width="0.7" fill="none" />
<line x1="434.6" y1="467" x2="434.6" y2="484" stroke="#333" stroke-width="1.2" />
<rect x="385.5" y="467" width="10.5" height="71.2" fill="none" stroke="#888" stroke-width="0.7" />
<line x1="390.8" y1="468" x2="390.8" y2="537" stroke="#aaa" stroke-width="0.6" stroke-dasharray="3 2"/>
<rect x="388.5" y="486" width="5.3" height="10" fill="#fff" stroke="#333" stroke-width="0.9" />
<rect x="389.8" y="488" width="2.7" height="6" fill="#666" stroke="none" stroke-width="1" />
<rect x="388.5" y="502" width="5.3" height="10" fill="#fff" stroke="#333" stroke-width="0.9" />
<rect x="389.8" y="504" width="2.7" height="6" fill="#666" stroke="none" stroke-width="1" />
<rect x="396" y="530.7" width="40.8" height="7.5" fill="none" stroke="#888" stroke-width="0.7" />
<line x1="397" y1="534.5" x2="436" y2="534.5" stroke="#aaa" stroke-width="0.6" stroke-dasharray="3 2"/>
<rect x="406" y="531.3" width="11.8" height="6.9" fill="#fff" stroke="#333" stroke-width="0.9" />
<line x1="411.9" y1="531.3" x2="411.9" y2="538.2" stroke="#333" stroke-width="0.8" />
<path d="M396.3,467.2 L396.3,529.9 L427.8,529.9 L427.8,498.4 L436.8,498.4" stroke="#666" stroke-width="0.8" fill="none" />
<rect x="428.3" y="502" width="7.5" height="10" fill="none" stroke="#666" stroke-width="0.7" />
<line x1="428.3" y1="502" x2="435.8" y2="512" stroke="#666" stroke-width="0.5599999999999999" />
<line x1="428.3" y1="512" x2="435.8" y2="502" stroke="#666" stroke-width="0.5599999999999999" />
<circle cx="432" cy="521" r="3.3" fill="none" stroke="#444" stroke-width="0.9"/>
<text x="412.8" y="496.6" font-family="Liberation Serif" font-size="7.9" text-anchor="middle" fill="#333" >茶水间</text>
<text x="412.8" y="505.2" font-family="Liberation Serif" font-size="6.6" text-anchor="middle" fill="#333" >(11.7m²)</text>
<rect x="436.8" y="464.3" width="4.2" height="75.1" fill="#fff" stroke="#1c1c1c" stroke-width="1.1" />
<rect x="441" y="464.3" width="56" height="3.3" fill="#fff" stroke="#1c1c1c" stroke-width="0.9" />
<rect x="451.6" y="467.6" width="42.4" height="10.1" fill="none" stroke="#777" stroke-width="0.7" />
<line x1="451.6" y1="467.6" x2="494" y2="477.7" stroke="#777" stroke-width="0.5599999999999999" />
<line x1="451.6" y1="477.7" x2="494" y2="467.6" stroke="#777" stroke-width="0.5599999999999999" />
<rect x="441.8" y="467.6" width="9.3" height="18.4" fill="none" stroke="#777" stroke-width="0.7" />
<line x1="441.8" y1="467.6" x2="451.1" y2="486" stroke="#777" stroke-width="0.5599999999999999" />
<line x1="441.8" y1="486" x2="451.1" y2="467.6" stroke="#777" stroke-width="0.5599999999999999" />
<rect x="441.8" y="498.7" width="9.3" height="40.3" fill="none" stroke="#777" stroke-width="0.7" />
<line x1="441.8" y1="498.7" x2="451.1" y2="539" stroke="#777" stroke-width="0.5599999999999999" />
<line x1="441.8" y1="539" x2="451.1" y2="498.7" stroke="#777" stroke-width="0.5599999999999999" />
<line x1="451.1" y1="486" x2="451.1" y2="498.7" stroke="#999" stroke-width="0.6" />
<rect x="493.1" y="467.6" width="3.5" height="27.9" fill="#fff" stroke="#1c1c1c" stroke-width="0.9" />
<rect x="493.1" y="512.2" width="3.5" height="27.2" fill="#fff" stroke="#1c1c1c" stroke-width="0.9" />
<line x1="478" y1="495.7" x2="493.1" y2="495.7" stroke="#333" stroke-width="1.2" />
<path d="M478,496 A15.5,16 0 0 0 493.1,512" stroke="#555" stroke-width="0.7" fill="none" />
<text x="470.4" y="520" font-family="Liberation Serif" font-size="7.9" text-anchor="middle" fill="#333" >资料室</text>
<text x="470.4" y="528.4" font-family="Liberation Serif" font-size="6.6" text-anchor="middle" fill="#333" >(11.4m²)</text>
<rect x="496.6" y="464.4" width="207.6" height="3.5" fill="#c8c8c8" stroke="#999" stroke-width="0.5" />
<line x1="704.2" y1="464" x2="704.2" y2="468.5" stroke="#333" stroke-width="1.2" />
<line x1="496.6" y1="467.9" x2="496.6" y2="495.6" stroke="#8e8e8e" stroke-width="1.8" />
<rect x="499.4" y="469.6" width="7.2" height="8.9" fill="none" stroke="#888" stroke-width="0.7" />
<line x1="499.4" y1="469.6" x2="506.6" y2="478.5" stroke="#888" stroke-width="0.5599999999999999" />
<line x1="499.4" y1="478.5" x2="506.6" y2="469.6" stroke="#888" stroke-width="0.5599999999999999" />
<line x1="509.1" y1="473" x2="516.1" y2="478" stroke="#333" stroke-width="1.5" />
<g transform="translate(505.9 485.5) rotate(30)"><rect x="-3.7" y="-3.7" width="7.4" height="7.4" rx="2" fill="#fff" stroke="#333" stroke-width="1.0"/><rect x="-2.4" y="-2.4" width="4.8" height="4.8" rx="1.2" fill="none" stroke="#888" stroke-width="0.5"/><path d="M-4.7,-2.9 L-4.7,2.9 M4.7,-2.9 L4.7,2.9" stroke="#444" stroke-width="0.8"/></g>
<path d="M512.1,483 L512.1,495.6 L523.6,495.6" stroke="#666" stroke-width="0.9" fill="none" />
<line x1="496.6" y1="512.4" x2="496.6" y2="539.4" stroke="#8e8e8e" stroke-width="1.8" />
<rect x="499.4" y="528.5" width="7.2" height="9.5" fill="none" stroke="#888" stroke-width="0.7" />
<line x1="499.4" y1="528.5" x2="506.6" y2="538" stroke="#888" stroke-width="0.5599999999999999" />
<line x1="499.4" y1="538" x2="506.6" y2="528.5" stroke="#888" stroke-width="0.5599999999999999" />
<line x1="509.1" y1="533.5" x2="516.1" y2="528.5" stroke="#333" stroke-width="1.5" />
<g transform="translate(505.9 521) rotate(30)"><rect x="-3.7" y="-3.7" width="7.4" height="7.4" rx="2" fill="#fff" stroke="#333" stroke-width="1.0"/><rect x="-2.4" y="-2.4" width="4.8" height="4.8" rx="1.2" fill="none" stroke="#888" stroke-width="0.5"/><path d="M-4.7,-2.9 L-4.7,2.9 M4.7,-2.9 L4.7,2.9" stroke="#444" stroke-width="0.8"/></g>
<path d="M512.1,523 L512.1,512.4 L523.6,512.4" stroke="#666" stroke-width="0.9" fill="none" />
<line x1="523.2" y1="467.9" x2="523.2" y2="495.6" stroke="#8e8e8e" stroke-width="1.8" />
<rect x="526" y="469.6" width="7.2" height="8.9" fill="none" stroke="#888" stroke-width="0.7" />
<line x1="526" y1="469.6" x2="533.2" y2="478.5" stroke="#888" stroke-width="0.5599999999999999" />
<line x1="526" y1="478.5" x2="533.2" y2="469.6" stroke="#888" stroke-width="0.5599999999999999" />
<line x1="535.7" y1="473" x2="542.7" y2="478" stroke="#333" stroke-width="1.5" />
<g transform="translate(532.5 485.5) rotate(30)"><rect x="-3.7" y="-3.7" width="7.4" height="7.4" rx="2" fill="#fff" stroke="#333" stroke-width="1.0"/><rect x="-2.4" y="-2.4" width="4.8" height="4.8" rx="1.2" fill="none" stroke="#888" stroke-width="0.5"/><path d="M-4.7,-2.9 L-4.7,2.9 M4.7,-2.9 L4.7,2.9" stroke="#444" stroke-width="0.8"/></g>
<path d="M538.7,483 L538.7,495.6 L550.2,495.6" stroke="#666" stroke-width="0.9" fill="none" />
<line x1="523.2" y1="512.4" x2="523.2" y2="539.4" stroke="#8e8e8e" stroke-width="1.8" />
<rect x="526" y="528.5" width="7.2" height="9.5" fill="none" stroke="#888" stroke-width="0.7" />
<line x1="526" y1="528.5" x2="533.2" y2="538" stroke="#888" stroke-width="0.5599999999999999" />
<line x1="526" y1="538" x2="533.2" y2="528.5" stroke="#888" stroke-width="0.5599999999999999" />
<line x1="535.7" y1="533.5" x2="542.7" y2="528.5" stroke="#333" stroke-width="1.5" />
<g transform="translate(532.5 521) rotate(30)"><rect x="-3.7" y="-3.7" width="7.4" height="7.4" rx="2" fill="#fff" stroke="#333" stroke-width="1.0"/><rect x="-2.4" y="-2.4" width="4.8" height="4.8" rx="1.2" fill="none" stroke="#888" stroke-width="0.5"/><path d="M-4.7,-2.9 L-4.7,2.9 M4.7,-2.9 L4.7,2.9" stroke="#444" stroke-width="0.8"/></g>
<path d="M538.7,523 L538.7,512.4 L550.2,512.4" stroke="#666" stroke-width="0.9" fill="none" />
<line x1="550.3" y1="467.9" x2="550.3" y2="495.6" stroke="#8e8e8e" stroke-width="1.8" />
<rect x="553.1" y="469.6" width="7.2" height="8.9" fill="none" stroke="#888" stroke-width="0.7" />
<line x1="553.1" y1="469.6" x2="560.3" y2="478.5" stroke="#888" stroke-width="0.5599999999999999" />
<line x1="553.1" y1="478.5" x2="560.3" y2="469.6" stroke="#888" stroke-width="0.5599999999999999" />
<line x1="562.8" y1="473" x2="569.8" y2="478" stroke="#333" stroke-width="1.5" />
<g transform="translate(559.6 485.5) rotate(30)"><rect x="-3.7" y="-3.7" width="7.4" height="7.4" rx="2" fill="#fff" stroke="#333" stroke-width="1.0"/><rect x="-2.4" y="-2.4" width="4.8" height="4.8" rx="1.2" fill="none" stroke="#888" stroke-width="0.5"/><path d="M-4.7,-2.9 L-4.7,2.9 M4.7,-2.9 L4.7,2.9" stroke="#444" stroke-width="0.8"/></g>
<path d="M565.8,483 L565.8,495.6 L577.3,495.6" stroke="#666" stroke-width="0.9" fill="none" />
<line x1="550.3" y1="512.4" x2="550.3" y2="539.4" stroke="#8e8e8e" stroke-width="1.8" />
<rect x="553.1" y="528.5" width="7.2" height="9.5" fill="none" stroke="#888" stroke-width="0.7" />
<line x1="553.1" y1="528.5" x2="560.3" y2="538" stroke="#888" stroke-width="0.5599999999999999" />
<line x1="553.1" y1="538" x2="560.3" y2="528.5" stroke="#888" stroke-width="0.5599999999999999" />
<line x1="562.8" y1="533.5" x2="569.8" y2="528.5" stroke="#333" stroke-width="1.5" />
<g transform="translate(559.6 521) rotate(30)"><rect x="-3.7" y="-3.7" width="7.4" height="7.4" rx="2" fill="#fff" stroke="#333" stroke-width="1.0"/><rect x="-2.4" y="-2.4" width="4.8" height="4.8" rx="1.2" fill="none" stroke="#888" stroke-width="0.5"/><path d="M-4.7,-2.9 L-4.7,2.9 M4.7,-2.9 L4.7,2.9" stroke="#444" stroke-width="0.8"/></g>
<path d="M565.8,523 L565.8,512.4 L577.3,512.4" stroke="#666" stroke-width="0.9" fill="none" />
<line x1="590.6" y1="467.9" x2="590.6" y2="495.6" stroke="#8e8e8e" stroke-width="1.8" />
<rect x="593.4" y="469.6" width="7.2" height="8.9" fill="none" stroke="#888" stroke-width="0.7" />
<line x1="593.4" y1="469.6" x2="600.6" y2="478.5" stroke="#888" stroke-width="0.5599999999999999" />
<line x1="593.4" y1="478.5" x2="600.6" y2="469.6" stroke="#888" stroke-width="0.5599999999999999" />
<line x1="603.1" y1="473" x2="610.1" y2="478" stroke="#333" stroke-width="1.5" />
<g transform="translate(599.9 485.5) rotate(30)"><rect x="-3.7" y="-3.7" width="7.4" height="7.4" rx="2" fill="#fff" stroke="#333" stroke-width="1.0"/><rect x="-2.4" y="-2.4" width="4.8" height="4.8" rx="1.2" fill="none" stroke="#888" stroke-width="0.5"/><path d="M-4.7,-2.9 L-4.7,2.9 M4.7,-2.9 L4.7,2.9" stroke="#444" stroke-width="0.8"/></g>
<path d="M606.1,483 L606.1,495.6 L617.6,495.6" stroke="#666" stroke-width="0.9" fill="none" />
<line x1="590.6" y1="512.4" x2="590.6" y2="539.4" stroke="#8e8e8e" stroke-width="1.8" />
<rect x="593.4" y="528.5" width="7.2" height="9.5" fill="none" stroke="#888" stroke-width="0.7" />
<line x1="593.4" y1="528.5" x2="600.6" y2="538" stroke="#888" stroke-width="0.5599999999999999" />
<line x1="593.4" y1="538" x2="600.6" y2="528.5" stroke="#888" stroke-width="0.5599999999999999" />
<line x1="603.1" y1="533.5" x2="610.1" y2="528.5" stroke="#333" stroke-width="1.5" />
<g transform="translate(599.9 521) rotate(30)"><rect x="-3.7" y="-3.7" width="7.4" height="7.4" rx="2" fill="#fff" stroke="#333" stroke-width="1.0"/><rect x="-2.4" y="-2.4" width="4.8" height="4.8" rx="1.2" fill="none" stroke="#888" stroke-width="0.5"/><path d="M-4.7,-2.9 L-4.7,2.9 M4.7,-2.9 L4.7,2.9" stroke="#444" stroke-width="0.8"/></g>
<path d="M606.1,523 L606.1,512.4 L617.6,512.4" stroke="#666" stroke-width="0.9" fill="none" />
<line x1="617.3" y1="467.9" x2="617.3" y2="495.6" stroke="#8e8e8e" stroke-width="1.8" />
<rect x="620.1" y="469.6" width="7.2" height="8.9" fill="none" stroke="#888" stroke-width="0.7" />
<line x1="620.1" y1="469.6" x2="627.3" y2="478.5" stroke="#888" stroke-width="0.5599999999999999" />
<line x1="620.1" y1="478.5" x2="627.3" y2="469.6" stroke="#888" stroke-width="0.5599999999999999" />
<line x1="629.8" y1="473" x2="636.8" y2="478" stroke="#333" stroke-width="1.5" />
<g transform="translate(626.6 485.5) rotate(30)"><rect x="-3.7" y="-3.7" width="7.4" height="7.4" rx="2" fill="#fff" stroke="#333" stroke-width="1.0"/><rect x="-2.4" y="-2.4" width="4.8" height="4.8" rx="1.2" fill="none" stroke="#888" stroke-width="0.5"/><path d="M-4.7,-2.9 L-4.7,2.9 M4.7,-2.9 L4.7,2.9" stroke="#444" stroke-width="0.8"/></g>
<path d="M632.8,483 L632.8,495.6 L644.3,495.6" stroke="#666" stroke-width="0.9" fill="none" />
<line x1="617.3" y1="512.4" x2="617.3" y2="539.4" stroke="#8e8e8e" stroke-width="1.8" />
<rect x="620.1" y="528.5" width="7.2" height="9.5" fill="none" stroke="#888" stroke-width="0.7" />
<line x1="620.1" y1="528.5" x2="627.3" y2="538" stroke="#888" stroke-width="0.5599999999999999" />
<line x1="620.1" y1="538" x2="627.3" y2="528.5" stroke="#888" stroke-width="0.5599999999999999" />
<line x1="629.8" y1="533.5" x2="636.8" y2="528.5" stroke="#333" stroke-width="1.5" />
<g transform="translate(626.6 521) rotate(30)"><rect x="-3.7" y="-3.7" width="7.4" height="7.4" rx="2" fill="#fff" stroke="#333" stroke-width="1.0"/><rect x="-2.4" y="-2.4" width="4.8" height="4.8" rx="1.2" fill="none" stroke="#888" stroke-width="0.5"/><path d="M-4.7,-2.9 L-4.7,2.9 M4.7,-2.9 L4.7,2.9" stroke="#444" stroke-width="0.8"/></g>
<path d="M632.8,523 L632.8,512.4 L644.3,512.4" stroke="#666" stroke-width="0.9" fill="none" />
<line x1="645" y1="467.9" x2="645" y2="495.6" stroke="#8e8e8e" stroke-width="1.8" />
<line x1="645" y1="512.4" x2="645" y2="539.4" stroke="#8e8e8e" stroke-width="1.8" />
<line x1="578" y1="467.9" x2="578" y2="486" stroke="#8e8e8e" stroke-width="1.8" />
<line x1="578" y1="512.4" x2="578" y2="539.4" stroke="#8e8e8e" stroke-width="1.8" />
<text x="681.5" y="487.6" font-family="Liberation Serif" font-size="7.9" text-anchor="middle" fill="#333" textLength="72" lengthAdjust="spacingAndGlyphs" >后勤/车队/采购10人</text>
<text x="668.9" y="496.6" font-family="Liberation Serif" font-size="6.6" text-anchor="middle" fill="#333" >(50.0m²)</text>
<rect x="673.1" y="498.2" width="21.5" height="14.3" fill="none" stroke="#666" stroke-width="0.8" />
<rect x="705.4" y="498.7" width="15.1" height="17.7" fill="none" stroke="#666" stroke-width="0.8" />
<rect x="708" y="501" width="10" height="12" fill="none" stroke="#888" stroke-width="0.6" />
<path d="M710,512 L716,504 L716,512" stroke="#777" stroke-width="0.6" fill="none" />
<rect x="662.2" y="520.6" width="43.3" height="16" fill="none" stroke="#666" stroke-width="0.8" />
<rect x="664.5" y="523" width="38.5" height="11.5" fill="none" stroke="#888" stroke-width="0.6" />
<line x1="677" y1="521" x2="677" y2="534" stroke="#888" stroke-width="0.6" />
<line x1="690.5" y1="521" x2="690.5" y2="534" stroke="#888" stroke-width="0.6" />
<path d="M667,532 Q672,526 676,532 M692,532 Q697,526 702,532" stroke="#888" stroke-width="0.6" fill="none" />
<rect x="707" y="524.8" width="11.5" height="10.9" fill="none" stroke="#666" stroke-width="0.8" />
<circle cx="712.7" cy="530.2" r="3" fill="none" stroke="#555" stroke-width="0.8"/>
<circle cx="654.6" cy="529.8" r="3.3" fill="none" stroke="#444" stroke-width="1.2"/>
<line x1="738.7" y1="544" x2="738.7" y2="553" stroke="#555" stroke-width="0.7" stroke-dasharray="2 2"/>
<line x1="575.5" y1="544" x2="575.5" y2="553" stroke="#555" stroke-width="0.7" stroke-dasharray="2 2"/>
<rect x="295.1" y="164.3" width="13.5" height="13.4" fill="#444" stroke="#111" stroke-width="1.1" />
<rect x="433.6" y="164.3" width="12.6" height="13.4" fill="#444" stroke="#111" stroke-width="1.1" />
<rect x="578" y="164.3" width="13" height="13.4" fill="#444" stroke="#111" stroke-width="1.1" />
<rect x="722.6" y="164.3" width="13.2" height="13.4" fill="#444" stroke="#111" stroke-width="1.1" />
<rect x="860.3" y="164.3" width="13.2" height="13.4" fill="#444" stroke="#111" stroke-width="1.1" />
<rect x="295.3" y="320.5" width="12.6" height="12.7" fill="#444" stroke="#111" stroke-width="1.1" />
<rect x="295.3" y="486" width="12.9" height="12.7" fill="#444" stroke="#111" stroke-width="1.1" />
<rect x="860.3" y="320.5" width="13.2" height="13.1" fill="#444" stroke="#111" stroke-width="1.1" />
<rect x="862.4" y="484.5" width="11.1" height="14.2" fill="#444" stroke="#111" stroke-width="1.1" />
<rect x="433.3" y="486" width="13.2" height="12.7" fill="#444" stroke="#111" stroke-width="1.1" />
<rect x="578" y="486" width="13" height="12.7" fill="#444" stroke="#111" stroke-width="1.1" />
<rect x="722.4" y="486" width="13.4" height="12.7" fill="#444" stroke="#111" stroke-width="1.1" />
<rect x="802.9" y="489.5" width="9.5" height="9.2" fill="#444" stroke="#111" stroke-width="1.1" />
<rect x="433.4" y="320.8" width="12.8" height="12.7" fill="#444" stroke="#111" stroke-width="1.1" />
<rect x="578" y="320.8" width="12.8" height="12.7" fill="#444" stroke="#111" stroke-width="1.1" />
<rect x="723" y="320.8" width="12.8" height="12.7" fill="#444" stroke="#111" stroke-width="1.1" />
<rect x="524" y="664" width="31.3" height="24.8" fill="#d22a2a" stroke="none" stroke-width="1" />
<path d="M526,684 Q533,671 541,666.5 Q548,668 553.5,679" stroke="#fff" stroke-width="2.2" fill="none" />
<path d="M530,683 Q537,672 541.5,669.5" stroke="#f3c9c9" stroke-width="1.0" fill="none" />
<path d="M541,666.5 Q538,672 534,675" stroke="#fff" stroke-width="1.6" fill="none" />
<rect x="535.5" y="676.5" width="11.5" height="9.5" fill="none" stroke="#fff" stroke-width="1.6" />
<line x1="539.3" y1="677" x2="539.3" y2="685.5" stroke="#fff" stroke-width="1.4" />
<line x1="543.1" y1="677" x2="543.1" y2="685.5" stroke="#fff" stroke-width="1.4" />
<path d="M537,676 Q541,672.5 546,676" stroke="#fff" stroke-width="1.2" fill="none" />
<text x="606.5" y="678.4" font-family="Liberation Sans" font-size="17" text-anchor="middle" fill="#1a1a1a" textLength="92" lengthAdjust="spacingAndGlyphs" font-weight="bold">星艺装饰</text>
<line x1="560.6" y1="682.3" x2="652.5" y2="682.3" stroke="#333" stroke-width="1.0" />
<text x="606.3" y="689.6" font-family="Liberation Sans" font-size="6" text-anchor="middle" fill="#444" textLength="91.5" lengthAdjust="spacing" >XINGYI DECORATION</text>
<circle cx="657.5" cy="664.4" r="2.6" fill="none" stroke="#555" stroke-width="0.6"/>
<text x="657.5" y="666" font-family="Liberation Sans" font-size="3.6" text-anchor="middle" fill="#555" >R</text>
</svg></body></html>
